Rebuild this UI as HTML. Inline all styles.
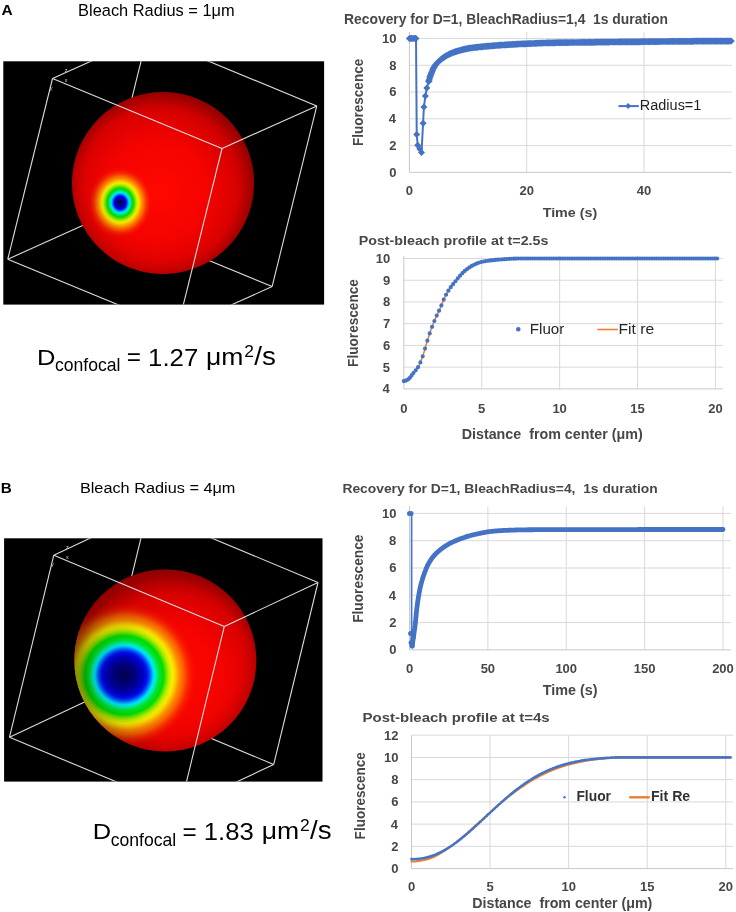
<!DOCTYPE html>
<html><head><meta charset="utf-8"><title>FRAP simulation figure</title>
<style>html,body{margin:0;padding:0;background:#fff;}body{width:736px;height:912px;position:relative;overflow:hidden;font-family:"Liberation Sans", sans-serif;}</style>
</head><body>
<svg width="736" height="912" viewBox="0 0 736 912" style="position:absolute;left:0;top:0;will-change:transform" font-family='"Liberation Sans", sans-serif'>
<defs>
<radialGradient id="sgA" gradientUnits="userSpaceOnUse" cx="157" cy="191" r="100.10000000000001" fx="157" fy="191">
<stop offset="0" stop-color="#ff0800"/><stop offset="0.5" stop-color="#fc0300"/><stop offset="1" stop-color="#f80000"/></radialGradient>
<radialGradient id="shadeA" gradientUnits="userSpaceOnUse" cx="157" cy="191" r="100.10000000000001" fx="157" fy="191">
<stop offset="0" stop-color="#000" stop-opacity="0"/><stop offset="0.5" stop-color="#000" stop-opacity="0.03"/><stop offset="0.8" stop-color="#000" stop-opacity="0.14"/><stop offset="1" stop-color="#000" stop-opacity="0.34"/></radialGradient>
<radialGradient id="limbA" gradientUnits="userSpaceOnUse" cx="163" cy="183" r="91">
<stop offset="0.85" stop-color="#000" stop-opacity="0"/><stop offset="1" stop-color="#000" stop-opacity="0.12"/></radialGradient>
<radialGradient id="sgB" gradientUnits="userSpaceOnUse" cx="173.3" cy="674.4" r="100.10000000000001" fx="173.3" fy="674.4">
<stop offset="0" stop-color="#ff0800"/><stop offset="0.5" stop-color="#fc0300"/><stop offset="1" stop-color="#f80000"/></radialGradient>
<radialGradient id="shadeB" gradientUnits="userSpaceOnUse" cx="173.3" cy="674.4" r="100.10000000000001" fx="173.3" fy="674.4">
<stop offset="0" stop-color="#000" stop-opacity="0"/><stop offset="0.5" stop-color="#000" stop-opacity="0.03"/><stop offset="0.8" stop-color="#000" stop-opacity="0.14"/><stop offset="1" stop-color="#000" stop-opacity="0.34"/></radialGradient>
<radialGradient id="limbB" gradientUnits="userSpaceOnUse" cx="165.3" cy="660.4" r="91">
<stop offset="0.85" stop-color="#000" stop-opacity="0"/><stop offset="1" stop-color="#000" stop-opacity="0.12"/></radialGradient>
<radialGradient id="spotA" gradientUnits="userSpaceOnUse" cx="0" cy="0" r="1" gradientTransform="translate(120.2 202.7) rotate(0) scale(33 36.3)"><stop offset="0.0" stop-color="#000050" stop-opacity="1"/><stop offset="0.0606" stop-color="#000070" stop-opacity="1"/><stop offset="0.1212" stop-color="#0000b0" stop-opacity="1"/><stop offset="0.1818" stop-color="#0000f0" stop-opacity="1"/><stop offset="0.2136" stop-color="#0050ff" stop-opacity="1"/><stop offset="0.2485" stop-color="#00b0ff" stop-opacity="1"/><stop offset="0.2773" stop-color="#00e8ff" stop-opacity="1"/><stop offset="0.3182" stop-color="#00f0a0" stop-opacity="1"/><stop offset="0.3485" stop-color="#00e840" stop-opacity="1"/><stop offset="0.3955" stop-color="#00e000" stop-opacity="1"/><stop offset="0.4545" stop-color="#70e800" stop-opacity="1"/><stop offset="0.5" stop-color="#c0f000" stop-opacity="1"/><stop offset="0.55" stop-color="#f8f000" stop-opacity="1"/><stop offset="0.6061" stop-color="#ffc000" stop-opacity="1"/><stop offset="0.6636" stop-color="#ff9000" stop-opacity="1"/><stop offset="0.7273" stop-color="#ff6a00" stop-opacity="0.95"/><stop offset="0.803" stop-color="#ff4000" stop-opacity="0.75"/><stop offset="0.9394" stop-color="#ff1000" stop-opacity="0.2"/><stop offset="1.0" stop-color="#ff0000" stop-opacity="0"/></radialGradient>
<radialGradient id="spotB" gradientUnits="userSpaceOnUse" cx="0" cy="0" r="1" gradientTransform="translate(124.2 675.2) rotate(0) scale(73 73)"><stop offset="0.0" stop-color="#000050" stop-opacity="1"/><stop offset="0.1096" stop-color="#000070" stop-opacity="1"/><stop offset="0.2055" stop-color="#0000a0" stop-opacity="1"/><stop offset="0.274" stop-color="#0000d0" stop-opacity="1"/><stop offset="0.3151" stop-color="#0010f0" stop-opacity="1"/><stop offset="0.3562" stop-color="#0060ff" stop-opacity="1"/><stop offset="0.3836" stop-color="#00b0ff" stop-opacity="1"/><stop offset="0.4068" stop-color="#00e8ff" stop-opacity="1"/><stop offset="0.4315" stop-color="#00f0c0" stop-opacity="1"/><stop offset="0.4521" stop-color="#00f080" stop-opacity="1"/><stop offset="0.4795" stop-color="#00e830" stop-opacity="1"/><stop offset="0.5397" stop-color="#00e000" stop-opacity="1"/><stop offset="0.5753" stop-color="#60e800" stop-opacity="1"/><stop offset="0.6164" stop-color="#c0f000" stop-opacity="1"/><stop offset="0.663" stop-color="#f8f000" stop-opacity="1"/><stop offset="0.6986" stop-color="#ffd000" stop-opacity="1"/><stop offset="0.7521" stop-color="#ff9000" stop-opacity="1"/><stop offset="0.8219" stop-color="#ff6000" stop-opacity="0.95"/><stop offset="0.8863" stop-color="#ff3000" stop-opacity="0.7"/><stop offset="1.0" stop-color="#ff0000" stop-opacity="0"/></radialGradient>
</defs>
<rect width="736" height="912" fill="#fff"/>
<text x="1.61" y="15.0" font-size="14.35" font-weight="bold" textLength="11.21" lengthAdjust="spacingAndGlyphs" fill="#000">A</text>
<text x="78.09" y="15.8" font-size="16.23" textLength="156.65" lengthAdjust="spacingAndGlyphs" fill="#000">Bleach Radius = 1μm</text>
<clipPath id="clipA"><rect x="3.3" y="61.3" width="320.8" height="243.3"/></clipPath>
<clipPath id="sphA"><circle cx="163" cy="183" r="91"/></clipPath>
<rect x="3.3" y="61.3" width="320.8" height="243.3" fill="#000"/>
<g clip-path="url(#clipA)" stroke="#dcdcdc" stroke-width="1.1" fill="none">
<line x1="7.8" y1="259.2" x2="102.6" y2="216.6"/>
<line x1="147.3" y1="35.9" x2="102.6" y2="216.6"/>
<line x1="102.6" y1="216.6" x2="272.1" y2="286.6"/>
</g>
<circle cx="163" cy="183" r="91" fill="url(#sgA)"/>
<g clip-path="url(#sphA)"><rect x="72" y="92" width="182" height="182" fill="url(#spotA)"/></g>
<circle cx="163" cy="183" r="91" fill="url(#shadeA)"/>
<circle cx="163" cy="183" r="91" fill="url(#limbA)"/>
<g clip-path="url(#clipA)" stroke="#dcdcdc" stroke-width="1.1" fill="none">
<line x1="52.5" y1="78.5" x2="222.0" y2="148.5"/>
<line x1="52.5" y1="78.5" x2="147.3" y2="35.9"/>
<line x1="52.5" y1="78.5" x2="7.8" y2="259.2"/>
<line x1="7.8" y1="259.2" x2="177.3" y2="329.2"/>
<line x1="147.3" y1="35.9" x2="316.8" y2="105.9"/>
<line x1="222.0" y1="148.5" x2="316.8" y2="105.9"/>
<line x1="222.0" y1="148.5" x2="177.3" y2="329.2"/>
<line x1="177.3" y1="329.2" x2="272.1" y2="286.6"/>
<line x1="316.8" y1="105.9" x2="272.1" y2="286.6"/>
</g>
<g font-size="5.5" fill="#d0d0d0"><text x="64.8" y="71.8">z</text><text x="64.8" y="82.3">x</text><text x="49.8" y="89.5">y</text></g>
<text x="37.06" y="364.9" font-size="22.75" textLength="18.45" lengthAdjust="spacingAndGlyphs" fill="#000">D</text>
<text x="55.0" y="371.1" font-size="18.21" textLength="65.54" lengthAdjust="spacingAndGlyphs" fill="#000">confocal</text>
<text x="126.88" y="365.4" font-size="24.00" textLength="14.21" lengthAdjust="spacingAndGlyphs" fill="#000">=</text>
<text x="148.07" y="365.5" font-size="24.29" textLength="50.16" lengthAdjust="spacingAndGlyphs" fill="#000">1.27</text>
<text x="206.07" y="365" font-size="24.50" textLength="37.43" lengthAdjust="spacingAndGlyphs" fill="#000">μm</text>
<text x="244.23" y="356.5" font-size="15.57" textLength="9.66" lengthAdjust="spacingAndGlyphs" fill="#000">2</text>
<text x="254.3" y="365" font-size="25.00" textLength="21.61" lengthAdjust="spacingAndGlyphs" fill="#000">/s</text>
<g stroke="#d9d9d9" stroke-width="1"><line x1="409.4" y1="145.58" x2="731.6" y2="145.58"/><line x1="409.4" y1="118.81" x2="731.6" y2="118.81"/><line x1="409.4" y1="92.04" x2="731.6" y2="92.04"/><line x1="409.4" y1="65.27" x2="731.6" y2="65.27"/><line x1="409.4" y1="38.50" x2="731.6" y2="38.50"/><line x1="526.72" y1="31.8" x2="526.72" y2="172.35"/><line x1="644.04" y1="31.8" x2="644.04" y2="172.35"/></g>
<path d="M409.4 31.8V172.35H731.6" fill="none" stroke="#c8c8c8" stroke-width="1"/>
<text x="344.0" y="23.9" font-size="14.20" font-weight="bold" textLength="323.87" lengthAdjust="spacingAndGlyphs" fill="#474747" style="white-space:pre">Recovery for D=1, BleachRadius=1,4  1s duration</text>
<text x="389.31" y="176.75" font-size="13" font-weight="bold" fill="#474747">0</text>
<text x="389.31" y="149.98" font-size="13" font-weight="bold" fill="#474747">2</text>
<text x="388.85" y="123.21000000000001" font-size="13" font-weight="bold" fill="#474747">4</text>
<text x="389.24" y="96.44" font-size="13" font-weight="bold" fill="#474747">6</text>
<text x="389.18" y="69.67" font-size="13" font-weight="bold" fill="#474747">8</text>
<text x="382.09" y="42.9" font-size="13" font-weight="bold" fill="#474747">10</text>
<text x="409.40" y="194.6" font-size="13" font-weight="bold" text-anchor="middle" fill="#474747">0</text>
<text x="526.72" y="194.6" font-size="13" font-weight="bold" text-anchor="middle" fill="#474747">20</text>
<text x="644.04" y="194.6" font-size="13" font-weight="bold" text-anchor="middle" fill="#474747">40</text>
<text x="542.66" y="216.6" font-size="13.04" font-weight="bold" textLength="54.6" lengthAdjust="spacingAndGlyphs" fill="#474747">Time (s)</text>
<text transform="translate(362.60 145.98) rotate(-90)" font-size="14.30" font-weight="bold" textLength="87.18" lengthAdjust="spacingAndGlyphs" fill="#474747">Fluorescence</text>
<polyline points="409.40,38.50 410.57,38.50 411.75,38.50 412.92,38.50 414.09,38.50 415.27,38.50 416.03,38.50 416.73,134.60 417.73,145.31 419.84,148.93 421.54,152.54 423.07,123.23 423.89,107.03 425.36,96.06 426.76,88.02 428.76,81.20 429.05,80.21 429.34,79.20 429.64,78.19 429.93,77.21 430.22,76.25 430.52,75.35 430.81,74.53 431.10,73.76 431.40,73.02 431.69,72.28 431.98,71.57 432.28,70.88 432.57,70.21 432.86,69.56 433.16,68.94 433.45,68.34 433.74,67.77 434.04,67.23 434.33,66.72 434.62,66.25 434.92,65.81 435.21,65.39 435.50,64.99 435.80,64.61 436.09,64.23 436.38,63.88 436.68,63.53 436.97,63.20 437.26,62.88 437.56,62.57 437.85,62.26 438.14,61.97 438.44,61.69 438.73,61.41 439.02,61.14 439.32,60.88 439.61,60.62 439.90,60.36 440.20,60.11 440.49,59.87 440.78,59.62 441.08,59.38 441.37,59.15 441.66,58.92 441.96,58.69 442.25,58.47 442.54,58.25 442.84,58.04 443.13,57.83 443.42,57.62 443.72,57.42 444.01,57.22 444.30,57.03 444.60,56.83 444.89,56.65 445.18,56.46 445.48,56.28 445.77,56.10 446.06,55.93 446.36,55.76 446.65,55.59 446.94,55.42 447.24,55.26 447.53,55.10 447.82,54.95 448.12,54.79 448.41,54.64 448.70,54.49 449.00,54.34 449.29,54.20 449.58,54.06 449.88,53.91 450.17,53.78 450.46,53.64 450.76,53.51 451.05,53.38 451.34,53.25 451.64,53.12 451.93,53.00 452.22,52.87 452.52,52.75 452.81,52.64 453.10,52.52 453.39,52.41 453.69,52.30 453.98,52.19 454.27,52.09 454.57,51.99 454.86,51.89 455.15,51.79 455.45,51.69 455.74,51.60 456.03,51.51 456.33,51.41 456.62,51.33 456.91,51.24 457.21,51.15 457.50,51.07 457.79,50.98 458.09,50.90 458.38,50.82 458.67,50.74 458.97,50.66 459.26,50.58 459.55,50.50 459.85,50.42 460.14,50.34 460.43,50.27 460.73,50.19 461.02,50.11 461.31,50.04 461.61,49.96 461.90,49.89 462.19,49.81 462.49,49.74 462.78,49.66 463.07,49.59 463.37,49.51 463.66,49.44 463.95,49.36 464.25,49.29 464.54,49.22 464.83,49.15 465.13,49.08 465.42,49.01 465.71,48.94 466.01,48.88 466.30,48.81 466.59,48.75 466.89,48.68 467.18,48.62 467.47,48.56 467.77,48.51 468.06,48.45 468.35,48.39 468.65,48.34 468.94,48.29 469.23,48.24 469.53,48.19 469.82,48.15 470.11,48.10 470.41,48.06 470.70,48.01 470.99,47.97 471.29,47.93 471.58,47.89 471.87,47.85 472.17,47.81 472.46,47.77 472.75,47.73 473.05,47.70 473.34,47.66 473.63,47.62 473.93,47.59 474.22,47.55 474.51,47.52 474.81,47.48 475.10,47.45 475.39,47.42 475.69,47.38 475.98,47.35 476.27,47.31 476.57,47.28 476.86,47.25 477.15,47.21 477.45,47.18 477.74,47.15 478.03,47.12 478.33,47.09 478.62,47.06 478.91,47.02 479.21,46.99 479.50,46.96 479.79,46.93 480.09,46.90 480.38,46.87 480.67,46.84 480.97,46.82 481.26,46.79 481.55,46.76 481.85,46.73 482.14,46.70 482.43,46.67 482.72,46.64 483.02,46.62 483.31,46.59 483.60,46.56 483.90,46.53 484.19,46.51 484.48,46.48 484.78,46.45 485.07,46.42 485.36,46.40 485.66,46.37 485.95,46.34 486.24,46.32 486.54,46.29 486.83,46.26 487.12,46.24 487.42,46.21 487.71,46.18 488.00,46.16 488.30,46.13 488.59,46.10 488.88,46.08 489.18,46.05 489.47,46.02 489.76,46.00 490.06,45.97 490.35,45.95 490.64,45.92 490.94,45.89 491.23,45.87 491.52,45.84 491.82,45.82 492.11,45.79 492.40,45.77 492.70,45.74 492.99,45.72 493.28,45.69 493.58,45.67 493.87,45.64 494.16,45.62 494.46,45.60 494.75,45.57 495.04,45.55 495.34,45.52 495.63,45.50 495.92,45.48 496.22,45.46 496.51,45.43 496.80,45.41 497.10,45.39 497.39,45.37 497.68,45.35 497.98,45.33 498.27,45.31 498.56,45.29 498.86,45.27 499.15,45.25 499.44,45.23 499.74,45.21 500.03,45.19 500.32,45.17 500.62,45.15 500.91,45.13 501.20,45.11 501.50,45.09 501.79,45.08 502.08,45.06 502.38,45.04 502.67,45.02 502.96,45.01 503.26,44.99 503.55,44.97 503.84,44.95 504.14,44.94 504.43,44.92 504.72,44.90 505.02,44.88 505.31,44.87 505.60,44.85 505.90,44.83 506.19,44.82 506.48,44.80 506.78,44.78 507.07,44.76 507.36,44.75 507.66,44.73 507.95,44.71 508.24,44.69 508.54,44.68 508.83,44.66 509.12,44.64 509.42,44.62 509.71,44.60 510.00,44.58 510.30,44.56 510.59,44.54 510.88,44.53 511.18,44.51 511.47,44.49 511.76,44.47 512.05,44.45 512.35,44.43 512.64,44.41 512.93,44.39 513.23,44.37 513.52,44.35 513.81,44.33 514.11,44.31 514.40,44.29 514.69,44.27 514.99,44.25 515.28,44.23 515.57,44.22 515.87,44.20 516.16,44.18 516.45,44.16 516.75,44.14 517.04,44.13 517.33,44.11 517.63,44.09 517.92,44.08 518.21,44.06 518.51,44.05 518.80,44.03 519.09,44.02 519.39,44.00 519.68,43.99 519.97,43.97 520.27,43.96 520.56,43.95 520.85,43.94 521.15,43.93 521.44,43.91 521.73,43.90 522.03,43.89 522.32,43.88 522.61,43.87 522.91,43.86 523.20,43.85 523.49,43.84 523.79,43.83 524.08,43.82 524.37,43.81 524.67,43.80 524.96,43.79 525.25,43.78 525.55,43.77 525.84,43.76 526.13,43.75 526.43,43.74 526.72,43.74 527.01,43.73 527.31,43.72 527.60,43.71 527.89,43.70 528.19,43.69 528.48,43.68 528.77,43.67 529.07,43.66 529.36,43.64 529.65,43.63 529.95,43.62 530.24,43.61 530.53,43.60 530.83,43.59 531.12,43.57 531.41,43.56 531.71,43.55 532.00,43.53 532.29,43.52 532.59,43.50 532.88,43.49 533.17,43.47 533.47,43.45 533.76,43.44 534.05,43.42 534.35,43.40 534.64,43.39 534.93,43.37 535.23,43.35 535.52,43.34 535.81,43.32 536.11,43.30 536.40,43.29 536.69,43.27 536.99,43.25 537.28,43.24 537.57,43.22 537.87,43.20 538.16,43.19 538.45,43.17 538.75,43.16 539.04,43.14 539.33,43.13 539.63,43.12 539.92,43.10 540.21,43.09 540.51,43.08 540.80,43.07 541.09,43.06 541.38,43.05 541.68,43.04 541.97,43.03 542.26,43.03 542.56,43.02 542.85,43.01 543.14,43.00 543.44,42.99 543.73,42.99 544.02,42.98 544.32,42.97 544.61,42.96 544.90,42.96 545.20,42.95 545.49,42.94 545.78,42.93 546.08,42.93 546.37,42.92 546.66,42.91 546.96,42.91 547.25,42.90 547.54,42.89 547.84,42.89 548.13,42.88 548.42,42.87 548.72,42.87 549.01,42.86 549.30,42.86 549.60,42.85 549.89,42.84 550.18,42.84 550.48,42.83 550.77,42.83 551.06,42.82 551.36,42.82 551.65,42.81 551.94,42.81 552.24,42.80 552.53,42.80 552.82,42.79 553.12,42.79 553.41,42.78 553.70,42.78 554.00,42.77 554.29,42.77 554.58,42.76 554.88,42.76 555.17,42.75 555.46,42.75 555.76,42.74 556.05,42.74 556.34,42.73 556.64,42.73 556.93,42.72 557.22,42.72 557.52,42.71 557.81,42.71 558.10,42.71 558.40,42.70 558.69,42.70 558.98,42.69 559.28,42.69 559.57,42.68 559.86,42.68 560.16,42.67 560.45,42.67 560.74,42.67 561.04,42.66 561.33,42.66 561.62,42.65 561.92,42.65 562.21,42.65 562.50,42.64 562.80,42.64 563.09,42.63 563.38,42.63 563.68,42.62 563.97,42.62 564.26,42.62 564.56,42.61 564.85,42.61 565.14,42.61 565.44,42.60 565.73,42.60 566.02,42.59 566.32,42.59 566.61,42.59 566.90,42.58 567.20,42.58 567.49,42.58 567.78,42.57 568.08,42.57 568.37,42.57 568.66,42.56 568.96,42.56 569.25,42.56 569.54,42.55 569.84,42.55 570.13,42.55 570.42,42.54 570.71,42.54 571.01,42.54 571.30,42.53 571.59,42.53 571.89,42.53 572.18,42.52 572.47,42.52 572.77,42.52 573.06,42.52 573.35,42.51 573.65,42.51 573.94,42.51 574.23,42.50 574.53,42.50 574.82,42.50 575.11,42.49 575.41,42.49 575.70,42.49 575.99,42.49 576.29,42.48 576.58,42.48 576.87,42.48 577.17,42.47 577.46,42.47 577.75,42.47 578.05,42.46 578.34,42.46 578.63,42.46 578.93,42.45 579.22,42.45 579.51,42.45 579.81,42.45 580.10,42.44 580.39,42.44 580.69,42.44 580.98,42.43 581.27,42.43 581.57,42.43 581.86,42.42 582.15,42.42 582.45,42.42 582.74,42.41 583.03,42.41 583.33,42.41 583.62,42.40 583.91,42.40 584.21,42.40 584.50,42.39 584.79,42.39 585.09,42.39 585.38,42.38 585.67,42.38 585.97,42.37 586.26,42.37 586.55,42.37 586.85,42.36 587.14,42.36 587.43,42.36 587.73,42.35 588.02,42.35 588.31,42.34 588.61,42.34 588.90,42.34 589.19,42.33 589.49,42.33 589.78,42.32 590.07,42.32 590.37,42.32 590.66,42.31 590.95,42.31 591.25,42.30 591.54,42.30 591.83,42.30 592.13,42.29 592.42,42.29 592.71,42.28 593.01,42.28 593.30,42.27 593.59,42.27 593.89,42.27 594.18,42.26 594.47,42.26 594.77,42.25 595.06,42.25 595.35,42.24 595.65,42.24 595.94,42.24 596.23,42.23 596.53,42.23 596.82,42.22 597.11,42.22 597.41,42.21 597.70,42.21 597.99,42.21 598.29,42.20 598.58,42.20 598.87,42.19 599.17,42.19 599.46,42.18 599.75,42.18 600.04,42.18 600.34,42.17 600.63,42.17 600.92,42.16 601.22,42.16 601.51,42.15 601.80,42.15 602.10,42.15 602.39,42.14 602.68,42.14 602.98,42.13 603.27,42.13 603.56,42.12 603.86,42.12 604.15,42.12 604.44,42.11 604.74,42.11 605.03,42.10 605.32,42.10 605.62,42.10 605.91,42.09 606.20,42.09 606.50,42.08 606.79,42.08 607.08,42.07 607.38,42.07 607.67,42.07 607.96,42.06 608.26,42.06 608.55,42.06 608.84,42.05 609.14,42.05 609.43,42.04 609.72,42.04 610.02,42.04 610.31,42.03 610.60,42.03 610.90,42.02 611.19,42.02 611.48,42.02 611.78,42.01 612.07,42.01 612.36,42.01 612.66,42.00 612.95,42.00 613.24,42.00 613.54,41.99 613.83,41.99 614.12,41.99 614.42,41.98 614.71,41.98 615.00,41.98 615.30,41.97 615.59,41.97 615.88,41.97 616.18,41.96 616.47,41.96 616.76,41.96 617.06,41.96 617.35,41.95 617.64,41.95 617.94,41.95 618.23,41.94 618.52,41.94 618.82,41.94 619.11,41.93 619.40,41.93 619.70,41.93 619.99,41.93 620.28,41.92 620.58,41.92 620.87,41.92 621.16,41.91 621.46,41.91 621.75,41.91 622.04,41.91 622.34,41.90 622.63,41.90 622.92,41.90 623.22,41.90 623.51,41.89 623.80,41.89 624.10,41.89 624.39,41.88 624.68,41.88 624.98,41.88 625.27,41.88 625.56,41.87 625.86,41.87 626.15,41.87 626.44,41.87 626.74,41.86 627.03,41.86 627.32,41.86 627.62,41.86 627.91,41.85 628.20,41.85 628.50,41.85 628.79,41.85 629.08,41.84 629.37,41.84 629.67,41.84 629.96,41.84 630.25,41.83 630.55,41.83 630.84,41.83 631.13,41.83 631.43,41.82 631.72,41.82 632.01,41.82 632.31,41.82 632.60,41.81 632.89,41.81 633.19,41.81 633.48,41.81 633.77,41.80 634.07,41.80 634.36,41.80 634.65,41.80 634.95,41.79 635.24,41.79 635.53,41.79 635.83,41.79 636.12,41.78 636.41,41.78 636.71,41.78 637.00,41.78 637.29,41.77 637.59,41.77 637.88,41.77 638.17,41.77 638.47,41.76 638.76,41.76 639.05,41.76 639.35,41.76 639.64,41.75 639.93,41.75 640.23,41.75 640.52,41.74 640.81,41.74 641.11,41.74 641.40,41.74 641.69,41.73 641.99,41.73 642.28,41.73 642.57,41.73 642.87,41.72 643.16,41.72 643.45,41.72 643.75,41.72 644.04,41.71 644.33,41.71 644.63,41.71 644.92,41.70 645.21,41.70 645.51,41.70 645.80,41.70 646.09,41.69 646.39,41.69 646.68,41.69 646.97,41.68 647.27,41.68 647.56,41.68 647.85,41.68 648.15,41.67 648.44,41.67 648.73,41.67 649.03,41.66 649.32,41.66 649.61,41.66 649.91,41.65 650.20,41.65 650.49,41.65 650.79,41.65 651.08,41.64 651.37,41.64 651.67,41.64 651.96,41.63 652.25,41.63 652.55,41.63 652.84,41.62 653.13,41.62 653.43,41.62 653.72,41.62 654.01,41.61 654.31,41.61 654.60,41.61 654.89,41.60 655.19,41.60 655.48,41.60 655.77,41.59 656.07,41.59 656.36,41.59 656.65,41.58 656.95,41.58 657.24,41.58 657.53,41.58 657.83,41.57 658.12,41.57 658.41,41.57 658.70,41.56 659.00,41.56 659.29,41.56 659.58,41.55 659.88,41.55 660.17,41.55 660.46,41.54 660.76,41.54 661.05,41.54 661.34,41.53 661.64,41.53 661.93,41.53 662.22,41.53 662.52,41.52 662.81,41.52 663.10,41.52 663.40,41.51 663.69,41.51 663.98,41.51 664.28,41.50 664.57,41.50 664.86,41.50 665.16,41.49 665.45,41.49 665.74,41.49 666.04,41.49 666.33,41.48 666.62,41.48 666.92,41.48 667.21,41.47 667.50,41.47 667.80,41.47 668.09,41.46 668.38,41.46 668.68,41.46 668.97,41.45 669.26,41.45 669.56,41.45 669.85,41.45 670.14,41.44 670.44,41.44 670.73,41.44 671.02,41.43 671.32,41.43 671.61,41.43 671.90,41.43 672.20,41.42 672.49,41.42 672.78,41.42 673.08,41.41 673.37,41.41 673.66,41.41 673.96,41.41 674.25,41.40 674.54,41.40 674.84,41.40 675.13,41.39 675.42,41.39 675.72,41.39 676.01,41.39 676.30,41.38 676.60,41.38 676.89,41.38 677.18,41.38 677.48,41.37 677.77,41.37 678.06,41.37 678.36,41.37 678.65,41.36 678.94,41.36 679.24,41.36 679.53,41.36 679.82,41.35 680.12,41.35 680.41,41.35 680.70,41.35 681.00,41.34 681.29,41.34 681.58,41.34 681.88,41.34 682.17,41.33 682.46,41.33 682.76,41.33 683.05,41.33 683.34,41.32 683.64,41.32 683.93,41.32 684.22,41.32 684.52,41.32 684.81,41.31 685.10,41.31 685.40,41.31 685.69,41.31 685.98,41.30 686.28,41.30 686.57,41.30 686.86,41.30 687.16,41.30 687.45,41.29 687.74,41.29 688.03,41.29 688.33,41.29 688.62,41.29 688.91,41.28 689.21,41.28 689.50,41.28 689.79,41.28 690.09,41.28 690.38,41.27 690.67,41.27 690.97,41.27 691.26,41.27 691.55,41.26 691.85,41.26 692.14,41.26 692.43,41.26 692.73,41.26 693.02,41.25 693.31,41.25 693.61,41.25 693.90,41.25 694.19,41.25 694.49,41.24 694.78,41.24 695.07,41.24 695.37,41.24 695.66,41.24 695.95,41.23 696.25,41.23 696.54,41.23 696.83,41.23 697.13,41.23 697.42,41.23 697.71,41.22 698.01,41.22 698.30,41.22 698.59,41.22 698.89,41.22 699.18,41.21 699.47,41.21 699.77,41.21 700.06,41.21 700.35,41.21 700.65,41.20 700.94,41.20 701.23,41.20 701.53,41.20 701.82,41.20 702.11,41.19 702.41,41.19 702.70,41.19 702.99,41.19 703.29,41.19 703.58,41.19 703.87,41.18 704.17,41.18 704.46,41.18 704.75,41.18 705.05,41.18 705.34,41.17 705.63,41.17 705.93,41.17 706.22,41.17 706.51,41.17 706.81,41.17 707.10,41.16 707.39,41.16 707.69,41.16 707.98,41.16 708.27,41.16 708.57,41.16 708.86,41.15 709.15,41.15 709.45,41.15 709.74,41.15 710.03,41.15 710.33,41.15 710.62,41.14 710.91,41.14 711.21,41.14 711.50,41.14 711.79,41.14 712.09,41.14 712.38,41.13 712.67,41.13 712.97,41.13 713.26,41.13 713.55,41.13 713.85,41.13 714.14,41.12 714.43,41.12 714.73,41.12 715.02,41.12 715.31,41.12 715.61,41.12 715.90,41.11 716.19,41.11 716.49,41.11 716.78,41.11 717.07,41.11 717.36,41.11 717.66,41.11 717.95,41.10 718.24,41.10 718.54,41.10 718.83,41.10 719.12,41.10 719.42,41.10 719.71,41.10 720.00,41.09 720.30,41.09 720.59,41.09 720.88,41.09 721.18,41.09 721.47,41.09 721.76,41.09 722.06,41.08 722.35,41.08 722.64,41.08 722.94,41.08 723.23,41.08 723.52,41.08 723.82,41.08 724.11,41.07 724.40,41.07 724.70,41.07 724.99,41.07 725.28,41.07 725.58,41.07 725.87,41.07 726.16,41.07 726.46,41.06 726.75,41.06 727.04,41.06 727.34,41.06 727.63,41.06 727.92,41.06 728.22,41.06 728.51,41.06 728.80,41.06 729.10,41.05 729.39,41.05 729.68,41.05 729.98,41.05 730.27,41.05 730.56,41.05 730.86,41.05 731.15,41.05" fill="none" stroke="#4472c4" stroke-width="2" stroke-linejoin="round" stroke-linecap="round"/>
<polyline points="428.76,81.20 429.05,80.21 429.34,79.20 429.64,78.19 429.93,77.21 430.22,76.25 430.52,75.35 430.81,74.53 431.10,73.76 431.40,73.02 431.69,72.28 431.98,71.57 432.28,70.88 432.57,70.21 432.86,69.56 433.16,68.94 433.45,68.34 433.74,67.77 434.04,67.23 434.33,66.72 434.62,66.25 434.92,65.81 435.21,65.39 435.50,64.99 435.80,64.61 436.09,64.23 436.38,63.88 436.68,63.53 436.97,63.20 437.26,62.88 437.56,62.57 437.85,62.26 438.14,61.97 438.44,61.69 438.73,61.41 439.02,61.14 439.32,60.88 439.61,60.62 439.90,60.36 440.20,60.11 440.49,59.87 440.78,59.62 441.08,59.38 441.37,59.15 441.66,58.92 441.96,58.69 442.25,58.47 442.54,58.25 442.84,58.04 443.13,57.83 443.42,57.62 443.72,57.42 444.01,57.22 444.30,57.03 444.60,56.83 444.89,56.65 445.18,56.46 445.48,56.28 445.77,56.10 446.06,55.93 446.36,55.76 446.65,55.59 446.94,55.42 447.24,55.26 447.53,55.10 447.82,54.95 448.12,54.79 448.41,54.64 448.70,54.49 449.00,54.34 449.29,54.20 449.58,54.06 449.88,53.91 450.17,53.78 450.46,53.64 450.76,53.51 451.05,53.38 451.34,53.25 451.64,53.12 451.93,53.00 452.22,52.87 452.52,52.75 452.81,52.64 453.10,52.52 453.39,52.41 453.69,52.30 453.98,52.19 454.27,52.09 454.57,51.99 454.86,51.89 455.15,51.79 455.45,51.69 455.74,51.60 456.03,51.51 456.33,51.41 456.62,51.33 456.91,51.24 457.21,51.15 457.50,51.07 457.79,50.98 458.09,50.90 458.38,50.82 458.67,50.74 458.97,50.66 459.26,50.58 459.55,50.50 459.85,50.42 460.14,50.34 460.43,50.27 460.73,50.19 461.02,50.11 461.31,50.04 461.61,49.96 461.90,49.89 462.19,49.81 462.49,49.74 462.78,49.66 463.07,49.59 463.37,49.51 463.66,49.44 463.95,49.36 464.25,49.29 464.54,49.22 464.83,49.15 465.13,49.08 465.42,49.01 465.71,48.94 466.01,48.88 466.30,48.81 466.59,48.75 466.89,48.68 467.18,48.62 467.47,48.56 467.77,48.51 468.06,48.45 468.35,48.39 468.65,48.34 468.94,48.29 469.23,48.24 469.53,48.19 469.82,48.15 470.11,48.10 470.41,48.06 470.70,48.01 470.99,47.97 471.29,47.93 471.58,47.89 471.87,47.85 472.17,47.81 472.46,47.77 472.75,47.73 473.05,47.70 473.34,47.66 473.63,47.62 473.93,47.59 474.22,47.55 474.51,47.52 474.81,47.48 475.10,47.45 475.39,47.42 475.69,47.38 475.98,47.35 476.27,47.31 476.57,47.28 476.86,47.25 477.15,47.21 477.45,47.18 477.74,47.15 478.03,47.12 478.33,47.09 478.62,47.06 478.91,47.02 479.21,46.99 479.50,46.96 479.79,46.93 480.09,46.90 480.38,46.87 480.67,46.84 480.97,46.82 481.26,46.79 481.55,46.76 481.85,46.73 482.14,46.70 482.43,46.67 482.72,46.64 483.02,46.62 483.31,46.59 483.60,46.56 483.90,46.53 484.19,46.51 484.48,46.48 484.78,46.45 485.07,46.42 485.36,46.40 485.66,46.37 485.95,46.34 486.24,46.32 486.54,46.29 486.83,46.26 487.12,46.24 487.42,46.21 487.71,46.18 488.00,46.16 488.30,46.13 488.59,46.10 488.88,46.08 489.18,46.05 489.47,46.02 489.76,46.00 490.06,45.97 490.35,45.95 490.64,45.92 490.94,45.89 491.23,45.87 491.52,45.84 491.82,45.82 492.11,45.79 492.40,45.77 492.70,45.74 492.99,45.72 493.28,45.69 493.58,45.67 493.87,45.64 494.16,45.62 494.46,45.60 494.75,45.57 495.04,45.55 495.34,45.52 495.63,45.50 495.92,45.48 496.22,45.46 496.51,45.43 496.80,45.41 497.10,45.39 497.39,45.37 497.68,45.35 497.98,45.33 498.27,45.31 498.56,45.29 498.86,45.27 499.15,45.25 499.44,45.23 499.74,45.21 500.03,45.19 500.32,45.17 500.62,45.15 500.91,45.13 501.20,45.11 501.50,45.09 501.79,45.08 502.08,45.06 502.38,45.04 502.67,45.02 502.96,45.01 503.26,44.99 503.55,44.97 503.84,44.95 504.14,44.94 504.43,44.92 504.72,44.90 505.02,44.88 505.31,44.87 505.60,44.85 505.90,44.83 506.19,44.82 506.48,44.80 506.78,44.78 507.07,44.76 507.36,44.75 507.66,44.73 507.95,44.71 508.24,44.69 508.54,44.68 508.83,44.66 509.12,44.64 509.42,44.62 509.71,44.60 510.00,44.58 510.30,44.56 510.59,44.54 510.88,44.53 511.18,44.51 511.47,44.49 511.76,44.47 512.05,44.45 512.35,44.43 512.64,44.41 512.93,44.39 513.23,44.37 513.52,44.35 513.81,44.33 514.11,44.31 514.40,44.29 514.69,44.27 514.99,44.25 515.28,44.23 515.57,44.22 515.87,44.20 516.16,44.18 516.45,44.16 516.75,44.14 517.04,44.13 517.33,44.11 517.63,44.09 517.92,44.08 518.21,44.06 518.51,44.05 518.80,44.03 519.09,44.02 519.39,44.00 519.68,43.99 519.97,43.97 520.27,43.96 520.56,43.95 520.85,43.94 521.15,43.93 521.44,43.91 521.73,43.90 522.03,43.89 522.32,43.88 522.61,43.87 522.91,43.86 523.20,43.85 523.49,43.84 523.79,43.83 524.08,43.82 524.37,43.81 524.67,43.80 524.96,43.79 525.25,43.78 525.55,43.77 525.84,43.76 526.13,43.75 526.43,43.74 526.72,43.74 527.01,43.73 527.31,43.72 527.60,43.71 527.89,43.70 528.19,43.69 528.48,43.68 528.77,43.67 529.07,43.66 529.36,43.64 529.65,43.63 529.95,43.62 530.24,43.61 530.53,43.60 530.83,43.59 531.12,43.57 531.41,43.56 531.71,43.55 532.00,43.53 532.29,43.52 532.59,43.50 532.88,43.49 533.17,43.47 533.47,43.45 533.76,43.44 534.05,43.42 534.35,43.40 534.64,43.39 534.93,43.37 535.23,43.35 535.52,43.34 535.81,43.32 536.11,43.30 536.40,43.29 536.69,43.27 536.99,43.25 537.28,43.24 537.57,43.22 537.87,43.20 538.16,43.19 538.45,43.17 538.75,43.16 539.04,43.14 539.33,43.13 539.63,43.12 539.92,43.10 540.21,43.09 540.51,43.08 540.80,43.07 541.09,43.06 541.38,43.05 541.68,43.04 541.97,43.03 542.26,43.03 542.56,43.02 542.85,43.01 543.14,43.00 543.44,42.99 543.73,42.99 544.02,42.98 544.32,42.97 544.61,42.96 544.90,42.96 545.20,42.95 545.49,42.94 545.78,42.93 546.08,42.93 546.37,42.92 546.66,42.91 546.96,42.91 547.25,42.90 547.54,42.89 547.84,42.89 548.13,42.88 548.42,42.87 548.72,42.87 549.01,42.86 549.30,42.86 549.60,42.85 549.89,42.84 550.18,42.84 550.48,42.83 550.77,42.83 551.06,42.82 551.36,42.82 551.65,42.81 551.94,42.81 552.24,42.80 552.53,42.80 552.82,42.79 553.12,42.79 553.41,42.78 553.70,42.78 554.00,42.77 554.29,42.77 554.58,42.76 554.88,42.76 555.17,42.75 555.46,42.75 555.76,42.74 556.05,42.74 556.34,42.73 556.64,42.73 556.93,42.72 557.22,42.72 557.52,42.71 557.81,42.71 558.10,42.71 558.40,42.70 558.69,42.70 558.98,42.69 559.28,42.69 559.57,42.68 559.86,42.68 560.16,42.67 560.45,42.67 560.74,42.67 561.04,42.66 561.33,42.66 561.62,42.65 561.92,42.65 562.21,42.65 562.50,42.64 562.80,42.64 563.09,42.63 563.38,42.63 563.68,42.62 563.97,42.62 564.26,42.62 564.56,42.61 564.85,42.61 565.14,42.61 565.44,42.60 565.73,42.60 566.02,42.59 566.32,42.59 566.61,42.59 566.90,42.58 567.20,42.58 567.49,42.58 567.78,42.57 568.08,42.57 568.37,42.57 568.66,42.56 568.96,42.56 569.25,42.56 569.54,42.55 569.84,42.55 570.13,42.55 570.42,42.54 570.71,42.54 571.01,42.54 571.30,42.53 571.59,42.53 571.89,42.53 572.18,42.52 572.47,42.52 572.77,42.52 573.06,42.52 573.35,42.51 573.65,42.51 573.94,42.51 574.23,42.50 574.53,42.50 574.82,42.50 575.11,42.49 575.41,42.49 575.70,42.49 575.99,42.49 576.29,42.48 576.58,42.48 576.87,42.48 577.17,42.47 577.46,42.47 577.75,42.47 578.05,42.46 578.34,42.46 578.63,42.46 578.93,42.45 579.22,42.45 579.51,42.45 579.81,42.45 580.10,42.44 580.39,42.44 580.69,42.44 580.98,42.43 581.27,42.43 581.57,42.43 581.86,42.42 582.15,42.42 582.45,42.42 582.74,42.41 583.03,42.41 583.33,42.41 583.62,42.40 583.91,42.40 584.21,42.40 584.50,42.39 584.79,42.39 585.09,42.39 585.38,42.38 585.67,42.38 585.97,42.37 586.26,42.37 586.55,42.37 586.85,42.36 587.14,42.36 587.43,42.36 587.73,42.35 588.02,42.35 588.31,42.34 588.61,42.34 588.90,42.34 589.19,42.33 589.49,42.33 589.78,42.32 590.07,42.32 590.37,42.32 590.66,42.31 590.95,42.31 591.25,42.30 591.54,42.30 591.83,42.30 592.13,42.29 592.42,42.29 592.71,42.28 593.01,42.28 593.30,42.27 593.59,42.27 593.89,42.27 594.18,42.26 594.47,42.26 594.77,42.25 595.06,42.25 595.35,42.24 595.65,42.24 595.94,42.24 596.23,42.23 596.53,42.23 596.82,42.22 597.11,42.22 597.41,42.21 597.70,42.21 597.99,42.21 598.29,42.20 598.58,42.20 598.87,42.19 599.17,42.19 599.46,42.18 599.75,42.18 600.04,42.18 600.34,42.17 600.63,42.17 600.92,42.16 601.22,42.16 601.51,42.15 601.80,42.15 602.10,42.15 602.39,42.14 602.68,42.14 602.98,42.13 603.27,42.13 603.56,42.12 603.86,42.12 604.15,42.12 604.44,42.11 604.74,42.11 605.03,42.10 605.32,42.10 605.62,42.10 605.91,42.09 606.20,42.09 606.50,42.08 606.79,42.08 607.08,42.07 607.38,42.07 607.67,42.07 607.96,42.06 608.26,42.06 608.55,42.06 608.84,42.05 609.14,42.05 609.43,42.04 609.72,42.04 610.02,42.04 610.31,42.03 610.60,42.03 610.90,42.02 611.19,42.02 611.48,42.02 611.78,42.01 612.07,42.01 612.36,42.01 612.66,42.00 612.95,42.00 613.24,42.00 613.54,41.99 613.83,41.99 614.12,41.99 614.42,41.98 614.71,41.98 615.00,41.98 615.30,41.97 615.59,41.97 615.88,41.97 616.18,41.96 616.47,41.96 616.76,41.96 617.06,41.96 617.35,41.95 617.64,41.95 617.94,41.95 618.23,41.94 618.52,41.94 618.82,41.94 619.11,41.93 619.40,41.93 619.70,41.93 619.99,41.93 620.28,41.92 620.58,41.92 620.87,41.92 621.16,41.91 621.46,41.91 621.75,41.91 622.04,41.91 622.34,41.90 622.63,41.90 622.92,41.90 623.22,41.90 623.51,41.89 623.80,41.89 624.10,41.89 624.39,41.88 624.68,41.88 624.98,41.88 625.27,41.88 625.56,41.87 625.86,41.87 626.15,41.87 626.44,41.87 626.74,41.86 627.03,41.86 627.32,41.86 627.62,41.86 627.91,41.85 628.20,41.85 628.50,41.85 628.79,41.85 629.08,41.84 629.37,41.84 629.67,41.84 629.96,41.84 630.25,41.83 630.55,41.83 630.84,41.83 631.13,41.83 631.43,41.82 631.72,41.82 632.01,41.82 632.31,41.82 632.60,41.81 632.89,41.81 633.19,41.81 633.48,41.81 633.77,41.80 634.07,41.80 634.36,41.80 634.65,41.80 634.95,41.79 635.24,41.79 635.53,41.79 635.83,41.79 636.12,41.78 636.41,41.78 636.71,41.78 637.00,41.78 637.29,41.77 637.59,41.77 637.88,41.77 638.17,41.77 638.47,41.76 638.76,41.76 639.05,41.76 639.35,41.76 639.64,41.75 639.93,41.75 640.23,41.75 640.52,41.74 640.81,41.74 641.11,41.74 641.40,41.74 641.69,41.73 641.99,41.73 642.28,41.73 642.57,41.73 642.87,41.72 643.16,41.72 643.45,41.72 643.75,41.72 644.04,41.71 644.33,41.71 644.63,41.71 644.92,41.70 645.21,41.70 645.51,41.70 645.80,41.70 646.09,41.69 646.39,41.69 646.68,41.69 646.97,41.68 647.27,41.68 647.56,41.68 647.85,41.68 648.15,41.67 648.44,41.67 648.73,41.67 649.03,41.66 649.32,41.66 649.61,41.66 649.91,41.65 650.20,41.65 650.49,41.65 650.79,41.65 651.08,41.64 651.37,41.64 651.67,41.64 651.96,41.63 652.25,41.63 652.55,41.63 652.84,41.62 653.13,41.62 653.43,41.62 653.72,41.62 654.01,41.61 654.31,41.61 654.60,41.61 654.89,41.60 655.19,41.60 655.48,41.60 655.77,41.59 656.07,41.59 656.36,41.59 656.65,41.58 656.95,41.58 657.24,41.58 657.53,41.58 657.83,41.57 658.12,41.57 658.41,41.57 658.70,41.56 659.00,41.56 659.29,41.56 659.58,41.55 659.88,41.55 660.17,41.55 660.46,41.54 660.76,41.54 661.05,41.54 661.34,41.53 661.64,41.53 661.93,41.53 662.22,41.53 662.52,41.52 662.81,41.52 663.10,41.52 663.40,41.51 663.69,41.51 663.98,41.51 664.28,41.50 664.57,41.50 664.86,41.50 665.16,41.49 665.45,41.49 665.74,41.49 666.04,41.49 666.33,41.48 666.62,41.48 666.92,41.48 667.21,41.47 667.50,41.47 667.80,41.47 668.09,41.46 668.38,41.46 668.68,41.46 668.97,41.45 669.26,41.45 669.56,41.45 669.85,41.45 670.14,41.44 670.44,41.44 670.73,41.44 671.02,41.43 671.32,41.43 671.61,41.43 671.90,41.43 672.20,41.42 672.49,41.42 672.78,41.42 673.08,41.41 673.37,41.41 673.66,41.41 673.96,41.41 674.25,41.40 674.54,41.40 674.84,41.40 675.13,41.39 675.42,41.39 675.72,41.39 676.01,41.39 676.30,41.38 676.60,41.38 676.89,41.38 677.18,41.38 677.48,41.37 677.77,41.37 678.06,41.37 678.36,41.37 678.65,41.36 678.94,41.36 679.24,41.36 679.53,41.36 679.82,41.35 680.12,41.35 680.41,41.35 680.70,41.35 681.00,41.34 681.29,41.34 681.58,41.34 681.88,41.34 682.17,41.33 682.46,41.33 682.76,41.33 683.05,41.33 683.34,41.32 683.64,41.32 683.93,41.32 684.22,41.32 684.52,41.32 684.81,41.31 685.10,41.31 685.40,41.31 685.69,41.31 685.98,41.30 686.28,41.30 686.57,41.30 686.86,41.30 687.16,41.30 687.45,41.29 687.74,41.29 688.03,41.29 688.33,41.29 688.62,41.29 688.91,41.28 689.21,41.28 689.50,41.28 689.79,41.28 690.09,41.28 690.38,41.27 690.67,41.27 690.97,41.27 691.26,41.27 691.55,41.26 691.85,41.26 692.14,41.26 692.43,41.26 692.73,41.26 693.02,41.25 693.31,41.25 693.61,41.25 693.90,41.25 694.19,41.25 694.49,41.24 694.78,41.24 695.07,41.24 695.37,41.24 695.66,41.24 695.95,41.23 696.25,41.23 696.54,41.23 696.83,41.23 697.13,41.23 697.42,41.23 697.71,41.22 698.01,41.22 698.30,41.22 698.59,41.22 698.89,41.22 699.18,41.21 699.47,41.21 699.77,41.21 700.06,41.21 700.35,41.21 700.65,41.20 700.94,41.20 701.23,41.20 701.53,41.20 701.82,41.20 702.11,41.19 702.41,41.19 702.70,41.19 702.99,41.19 703.29,41.19 703.58,41.19 703.87,41.18 704.17,41.18 704.46,41.18 704.75,41.18 705.05,41.18 705.34,41.17 705.63,41.17 705.93,41.17 706.22,41.17 706.51,41.17 706.81,41.17 707.10,41.16 707.39,41.16 707.69,41.16 707.98,41.16 708.27,41.16 708.57,41.16 708.86,41.15 709.15,41.15 709.45,41.15 709.74,41.15 710.03,41.15 710.33,41.15 710.62,41.14 710.91,41.14 711.21,41.14 711.50,41.14 711.79,41.14 712.09,41.14 712.38,41.13 712.67,41.13 712.97,41.13 713.26,41.13 713.55,41.13 713.85,41.13 714.14,41.12 714.43,41.12 714.73,41.12 715.02,41.12 715.31,41.12 715.61,41.12 715.90,41.11 716.19,41.11 716.49,41.11 716.78,41.11 717.07,41.11 717.36,41.11 717.66,41.11 717.95,41.10 718.24,41.10 718.54,41.10 718.83,41.10 719.12,41.10 719.42,41.10 719.71,41.10 720.00,41.09 720.30,41.09 720.59,41.09 720.88,41.09 721.18,41.09 721.47,41.09 721.76,41.09 722.06,41.08 722.35,41.08 722.64,41.08 722.94,41.08 723.23,41.08 723.52,41.08 723.82,41.08 724.11,41.07 724.40,41.07 724.70,41.07 724.99,41.07 725.28,41.07 725.58,41.07 725.87,41.07 726.16,41.07 726.46,41.06 726.75,41.06 727.04,41.06 727.34,41.06 727.63,41.06 727.92,41.06 728.22,41.06 728.51,41.06 728.80,41.06 729.10,41.05 729.39,41.05 729.68,41.05 729.98,41.05 730.27,41.05 730.56,41.05 730.86,41.05 731.15,41.05" fill="none" stroke="#4472c4" stroke-width="4.6" stroke-linejoin="round" stroke-linecap="round"/>
<path d="M409.4 35.0l3.5 3.5l-3.5 3.5l-3.5 -3.5zM410.6 35.0l3.5 3.5l-3.5 3.5l-3.5 -3.5zM411.7 35.0l3.5 3.5l-3.5 3.5l-3.5 -3.5zM412.9 35.0l3.5 3.5l-3.5 3.5l-3.5 -3.5zM414.1 35.0l3.5 3.5l-3.5 3.5l-3.5 -3.5zM415.3 35.0l3.5 3.5l-3.5 3.5l-3.5 -3.5zM416.0 35.0l3.5 3.5l-3.5 3.5l-3.5 -3.5zM416.7 131.1l3.5 3.5l-3.5 3.5l-3.5 -3.5zM417.7 141.8l3.5 3.5l-3.5 3.5l-3.5 -3.5zM419.8 145.4l3.5 3.5l-3.5 3.5l-3.5 -3.5zM421.5 149.0l3.5 3.5l-3.5 3.5l-3.5 -3.5zM423.1 119.7l3.5 3.5l-3.5 3.5l-3.5 -3.5zM423.9 103.5l3.5 3.5l-3.5 3.5l-3.5 -3.5zM425.4 92.6l3.5 3.5l-3.5 3.5l-3.5 -3.5zM426.8 84.5l3.5 3.5l-3.5 3.5l-3.5 -3.5zM428.8 77.7l3.5 3.5l-3.5 3.5l-3.5 -3.5z" fill="#4472c4"/>
<path d="M428.8 77.6l3.6 3.6l-3.6 3.6l-3.6 -3.6zM429.1 76.4l3.6 3.6l-3.6 3.6l-3.6 -3.6zM429.4 75.3l3.6 3.6l-3.6 3.6l-3.6 -3.6zM429.8 74.1l3.6 3.6l-3.6 3.6l-3.6 -3.6zM430.1 73.0l3.6 3.6l-3.6 3.6l-3.6 -3.6zM430.5 71.8l3.6 3.6l-3.6 3.6l-3.6 -3.6zM430.9 70.7l3.6 3.6l-3.6 3.6l-3.6 -3.6zM431.3 69.6l3.6 3.6l-3.6 3.6l-3.6 -3.6zM431.8 68.5l3.6 3.6l-3.6 3.6l-3.6 -3.6zM432.2 67.4l3.6 3.6l-3.6 3.6l-3.6 -3.6zM432.7 66.3l3.6 3.6l-3.6 3.6l-3.6 -3.6zM433.2 65.2l3.6 3.6l-3.6 3.6l-3.6 -3.6zM433.8 64.1l3.6 3.6l-3.6 3.6l-3.6 -3.6zM434.4 63.1l3.6 3.6l-3.6 3.6l-3.6 -3.6zM435.0 62.1l3.6 3.6l-3.6 3.6l-3.6 -3.6zM435.7 61.1l3.6 3.6l-3.6 3.6l-3.6 -3.6zM436.5 60.2l3.6 3.6l-3.6 3.6l-3.6 -3.6zM437.3 59.3l3.6 3.6l-3.6 3.6l-3.6 -3.6zM438.1 58.4l3.6 3.6l-3.6 3.6l-3.6 -3.6zM439.0 57.6l3.6 3.6l-3.6 3.6l-3.6 -3.6zM439.9 56.8l3.6 3.6l-3.6 3.6l-3.6 -3.6zM440.8 56.0l3.6 3.6l-3.6 3.6l-3.6 -3.6zM441.7 55.3l3.6 3.6l-3.6 3.6l-3.6 -3.6zM442.7 54.5l3.6 3.6l-3.6 3.6l-3.6 -3.6zM443.7 53.8l3.6 3.6l-3.6 3.6l-3.6 -3.6zM444.7 53.2l3.6 3.6l-3.6 3.6l-3.6 -3.6zM445.7 52.5l3.6 3.6l-3.6 3.6l-3.6 -3.6zM446.7 51.9l3.6 3.6l-3.6 3.6l-3.6 -3.6zM447.8 51.4l3.6 3.6l-3.6 3.6l-3.6 -3.6zM448.9 50.8l3.6 3.6l-3.6 3.6l-3.6 -3.6zM449.9 50.3l3.6 3.6l-3.6 3.6l-3.6 -3.6zM451.0 49.8l3.6 3.6l-3.6 3.6l-3.6 -3.6zM452.1 49.3l3.6 3.6l-3.6 3.6l-3.6 -3.6zM453.3 48.9l3.6 3.6l-3.6 3.6l-3.6 -3.6zM454.4 48.5l3.6 3.6l-3.6 3.6l-3.6 -3.6zM455.5 48.1l3.6 3.6l-3.6 3.6l-3.6 -3.6zM456.7 47.7l3.6 3.6l-3.6 3.6l-3.6 -3.6zM457.8 47.4l3.6 3.6l-3.6 3.6l-3.6 -3.6zM459.0 47.1l3.6 3.6l-3.6 3.6l-3.6 -3.6zM460.1 46.7l3.6 3.6l-3.6 3.6l-3.6 -3.6zM461.3 46.4l3.6 3.6l-3.6 3.6l-3.6 -3.6zM462.5 46.1l3.6 3.6l-3.6 3.6l-3.6 -3.6zM463.6 45.8l3.6 3.6l-3.6 3.6l-3.6 -3.6zM464.8 45.6l3.6 3.6l-3.6 3.6l-3.6 -3.6zM466.0 45.3l3.6 3.6l-3.6 3.6l-3.6 -3.6zM467.1 45.0l3.6 3.6l-3.6 3.6l-3.6 -3.6zM468.3 44.8l3.6 3.6l-3.6 3.6l-3.6 -3.6zM469.5 44.6l3.6 3.6l-3.6 3.6l-3.6 -3.6zM470.7 44.4l3.6 3.6l-3.6 3.6l-3.6 -3.6zM471.9 44.2l3.6 3.6l-3.6 3.6l-3.6 -3.6zM473.1 44.1l3.6 3.6l-3.6 3.6l-3.6 -3.6zM474.3 43.9l3.6 3.6l-3.6 3.6l-3.6 -3.6zM475.5 43.8l3.6 3.6l-3.6 3.6l-3.6 -3.6zM476.7 43.7l3.6 3.6l-3.6 3.6l-3.6 -3.6zM477.8 43.5l3.6 3.6l-3.6 3.6l-3.6 -3.6zM479.0 43.4l3.6 3.6l-3.6 3.6l-3.6 -3.6zM480.2 43.3l3.6 3.6l-3.6 3.6l-3.6 -3.6zM481.4 43.2l3.6 3.6l-3.6 3.6l-3.6 -3.6zM482.6 43.1l3.6 3.6l-3.6 3.6l-3.6 -3.6zM483.8 42.9l3.6 3.6l-3.6 3.6l-3.6 -3.6zM485.0 42.8l3.6 3.6l-3.6 3.6l-3.6 -3.6zM486.2 42.7l3.6 3.6l-3.6 3.6l-3.6 -3.6zM487.4 42.6l3.6 3.6l-3.6 3.6l-3.6 -3.6zM488.6 42.5l3.6 3.6l-3.6 3.6l-3.6 -3.6zM489.8 42.4l3.6 3.6l-3.6 3.6l-3.6 -3.6zM491.0 42.3l3.6 3.6l-3.6 3.6l-3.6 -3.6zM492.2 42.2l3.6 3.6l-3.6 3.6l-3.6 -3.6zM493.4 42.1l3.6 3.6l-3.6 3.6l-3.6 -3.6zM494.6 42.0l3.6 3.6l-3.6 3.6l-3.6 -3.6zM495.8 41.9l3.6 3.6l-3.6 3.6l-3.6 -3.6zM497.0 41.8l3.6 3.6l-3.6 3.6l-3.6 -3.6zM498.2 41.7l3.6 3.6l-3.6 3.6l-3.6 -3.6zM499.4 41.6l3.6 3.6l-3.6 3.6l-3.6 -3.6zM500.6 41.6l3.6 3.6l-3.6 3.6l-3.6 -3.6zM501.8 41.5l3.6 3.6l-3.6 3.6l-3.6 -3.6zM503.0 41.4l3.6 3.6l-3.6 3.6l-3.6 -3.6zM504.2 41.3l3.6 3.6l-3.6 3.6l-3.6 -3.6zM505.4 41.3l3.6 3.6l-3.6 3.6l-3.6 -3.6zM506.6 41.2l3.6 3.6l-3.6 3.6l-3.6 -3.6zM507.8 41.1l3.6 3.6l-3.6 3.6l-3.6 -3.6zM509.0 41.0l3.6 3.6l-3.6 3.6l-3.6 -3.6zM510.2 41.0l3.6 3.6l-3.6 3.6l-3.6 -3.6zM511.4 40.9l3.6 3.6l-3.6 3.6l-3.6 -3.6zM512.6 40.8l3.6 3.6l-3.6 3.6l-3.6 -3.6zM513.8 40.7l3.6 3.6l-3.6 3.6l-3.6 -3.6zM515.0 40.7l3.6 3.6l-3.6 3.6l-3.6 -3.6zM516.2 40.6l3.6 3.6l-3.6 3.6l-3.6 -3.6zM517.4 40.5l3.6 3.6l-3.6 3.6l-3.6 -3.6zM518.6 40.4l3.6 3.6l-3.6 3.6l-3.6 -3.6zM519.8 40.4l3.6 3.6l-3.6 3.6l-3.6 -3.6zM521.0 40.3l3.6 3.6l-3.6 3.6l-3.6 -3.6zM522.2 40.3l3.6 3.6l-3.6 3.6l-3.6 -3.6zM523.4 40.2l3.6 3.6l-3.6 3.6l-3.6 -3.6zM524.6 40.2l3.6 3.6l-3.6 3.6l-3.6 -3.6zM525.8 40.2l3.6 3.6l-3.6 3.6l-3.6 -3.6zM527.0 40.1l3.6 3.6l-3.6 3.6l-3.6 -3.6zM528.2 40.1l3.6 3.6l-3.6 3.6l-3.6 -3.6zM529.4 40.0l3.6 3.6l-3.6 3.6l-3.6 -3.6zM530.6 40.0l3.6 3.6l-3.6 3.6l-3.6 -3.6zM531.8 39.9l3.6 3.6l-3.6 3.6l-3.6 -3.6zM533.0 39.9l3.6 3.6l-3.6 3.6l-3.6 -3.6zM534.2 39.8l3.6 3.6l-3.6 3.6l-3.6 -3.6zM535.4 39.7l3.6 3.6l-3.6 3.6l-3.6 -3.6zM536.6 39.7l3.6 3.6l-3.6 3.6l-3.6 -3.6zM537.8 39.6l3.6 3.6l-3.6 3.6l-3.6 -3.6zM539.0 39.5l3.6 3.6l-3.6 3.6l-3.6 -3.6zM540.2 39.5l3.6 3.6l-3.6 3.6l-3.6 -3.6zM541.4 39.5l3.6 3.6l-3.6 3.6l-3.6 -3.6zM542.6 39.4l3.6 3.6l-3.6 3.6l-3.6 -3.6zM543.8 39.4l3.6 3.6l-3.6 3.6l-3.6 -3.6zM545.0 39.4l3.6 3.6l-3.6 3.6l-3.6 -3.6zM546.2 39.3l3.6 3.6l-3.6 3.6l-3.6 -3.6zM547.4 39.3l3.6 3.6l-3.6 3.6l-3.6 -3.6zM548.6 39.3l3.6 3.6l-3.6 3.6l-3.6 -3.6zM549.8 39.2l3.6 3.6l-3.6 3.6l-3.6 -3.6zM551.0 39.2l3.6 3.6l-3.6 3.6l-3.6 -3.6zM552.2 39.2l3.6 3.6l-3.6 3.6l-3.6 -3.6zM553.4 39.2l3.6 3.6l-3.6 3.6l-3.6 -3.6zM554.6 39.2l3.6 3.6l-3.6 3.6l-3.6 -3.6zM555.8 39.1l3.6 3.6l-3.6 3.6l-3.6 -3.6zM557.0 39.1l3.6 3.6l-3.6 3.6l-3.6 -3.6zM558.2 39.1l3.6 3.6l-3.6 3.6l-3.6 -3.6zM559.4 39.1l3.6 3.6l-3.6 3.6l-3.6 -3.6zM560.6 39.1l3.6 3.6l-3.6 3.6l-3.6 -3.6zM561.8 39.1l3.6 3.6l-3.6 3.6l-3.6 -3.6zM563.0 39.0l3.6 3.6l-3.6 3.6l-3.6 -3.6zM564.2 39.0l3.6 3.6l-3.6 3.6l-3.6 -3.6zM565.4 39.0l3.6 3.6l-3.6 3.6l-3.6 -3.6zM566.6 39.0l3.6 3.6l-3.6 3.6l-3.6 -3.6zM567.8 39.0l3.6 3.6l-3.6 3.6l-3.6 -3.6zM569.0 39.0l3.6 3.6l-3.6 3.6l-3.6 -3.6zM570.2 38.9l3.6 3.6l-3.6 3.6l-3.6 -3.6zM571.4 38.9l3.6 3.6l-3.6 3.6l-3.6 -3.6zM572.6 38.9l3.6 3.6l-3.6 3.6l-3.6 -3.6zM573.8 38.9l3.6 3.6l-3.6 3.6l-3.6 -3.6zM575.0 38.9l3.6 3.6l-3.6 3.6l-3.6 -3.6zM576.2 38.9l3.6 3.6l-3.6 3.6l-3.6 -3.6zM577.4 38.9l3.6 3.6l-3.6 3.6l-3.6 -3.6zM578.6 38.9l3.6 3.6l-3.6 3.6l-3.6 -3.6zM579.8 38.8l3.6 3.6l-3.6 3.6l-3.6 -3.6zM581.0 38.8l3.6 3.6l-3.6 3.6l-3.6 -3.6zM582.2 38.8l3.6 3.6l-3.6 3.6l-3.6 -3.6zM583.4 38.8l3.6 3.6l-3.6 3.6l-3.6 -3.6zM584.6 38.8l3.6 3.6l-3.6 3.6l-3.6 -3.6zM585.8 38.8l3.6 3.6l-3.6 3.6l-3.6 -3.6zM587.0 38.8l3.6 3.6l-3.6 3.6l-3.6 -3.6zM588.2 38.7l3.6 3.6l-3.6 3.6l-3.6 -3.6zM589.4 38.7l3.6 3.6l-3.6 3.6l-3.6 -3.6zM590.6 38.7l3.6 3.6l-3.6 3.6l-3.6 -3.6zM591.8 38.7l3.6 3.6l-3.6 3.6l-3.6 -3.6zM593.0 38.7l3.6 3.6l-3.6 3.6l-3.6 -3.6zM594.2 38.7l3.6 3.6l-3.6 3.6l-3.6 -3.6zM595.4 38.6l3.6 3.6l-3.6 3.6l-3.6 -3.6zM596.6 38.6l3.6 3.6l-3.6 3.6l-3.6 -3.6zM597.8 38.6l3.6 3.6l-3.6 3.6l-3.6 -3.6zM599.0 38.6l3.6 3.6l-3.6 3.6l-3.6 -3.6zM600.2 38.6l3.6 3.6l-3.6 3.6l-3.6 -3.6zM601.4 38.6l3.6 3.6l-3.6 3.6l-3.6 -3.6zM602.6 38.5l3.6 3.6l-3.6 3.6l-3.6 -3.6zM603.8 38.5l3.6 3.6l-3.6 3.6l-3.6 -3.6zM605.0 38.5l3.6 3.6l-3.6 3.6l-3.6 -3.6zM606.2 38.5l3.6 3.6l-3.6 3.6l-3.6 -3.6zM607.4 38.5l3.6 3.6l-3.6 3.6l-3.6 -3.6zM608.6 38.5l3.6 3.6l-3.6 3.6l-3.6 -3.6zM609.8 38.4l3.6 3.6l-3.6 3.6l-3.6 -3.6zM611.0 38.4l3.6 3.6l-3.6 3.6l-3.6 -3.6zM612.2 38.4l3.6 3.6l-3.6 3.6l-3.6 -3.6zM613.4 38.4l3.6 3.6l-3.6 3.6l-3.6 -3.6zM614.6 38.4l3.6 3.6l-3.6 3.6l-3.6 -3.6zM615.8 38.4l3.6 3.6l-3.6 3.6l-3.6 -3.6zM617.0 38.4l3.6 3.6l-3.6 3.6l-3.6 -3.6zM618.2 38.3l3.6 3.6l-3.6 3.6l-3.6 -3.6zM619.4 38.3l3.6 3.6l-3.6 3.6l-3.6 -3.6zM620.6 38.3l3.6 3.6l-3.6 3.6l-3.6 -3.6zM621.8 38.3l3.6 3.6l-3.6 3.6l-3.6 -3.6zM623.0 38.3l3.6 3.6l-3.6 3.6l-3.6 -3.6zM624.2 38.3l3.6 3.6l-3.6 3.6l-3.6 -3.6zM625.4 38.3l3.6 3.6l-3.6 3.6l-3.6 -3.6zM626.6 38.3l3.6 3.6l-3.6 3.6l-3.6 -3.6zM627.8 38.3l3.6 3.6l-3.6 3.6l-3.6 -3.6zM629.0 38.2l3.6 3.6l-3.6 3.6l-3.6 -3.6zM630.3 38.2l3.6 3.6l-3.6 3.6l-3.6 -3.6zM631.5 38.2l3.6 3.6l-3.6 3.6l-3.6 -3.6zM632.7 38.2l3.6 3.6l-3.6 3.6l-3.6 -3.6zM633.9 38.2l3.6 3.6l-3.6 3.6l-3.6 -3.6zM635.1 38.2l3.6 3.6l-3.6 3.6l-3.6 -3.6zM636.3 38.2l3.6 3.6l-3.6 3.6l-3.6 -3.6zM637.5 38.2l3.6 3.6l-3.6 3.6l-3.6 -3.6zM638.7 38.2l3.6 3.6l-3.6 3.6l-3.6 -3.6zM639.9 38.2l3.6 3.6l-3.6 3.6l-3.6 -3.6zM641.1 38.1l3.6 3.6l-3.6 3.6l-3.6 -3.6zM642.3 38.1l3.6 3.6l-3.6 3.6l-3.6 -3.6zM643.5 38.1l3.6 3.6l-3.6 3.6l-3.6 -3.6zM644.7 38.1l3.6 3.6l-3.6 3.6l-3.6 -3.6zM645.9 38.1l3.6 3.6l-3.6 3.6l-3.6 -3.6zM647.1 38.1l3.6 3.6l-3.6 3.6l-3.6 -3.6zM648.3 38.1l3.6 3.6l-3.6 3.6l-3.6 -3.6zM649.5 38.1l3.6 3.6l-3.6 3.6l-3.6 -3.6zM650.7 38.0l3.6 3.6l-3.6 3.6l-3.6 -3.6zM651.9 38.0l3.6 3.6l-3.6 3.6l-3.6 -3.6zM653.1 38.0l3.6 3.6l-3.6 3.6l-3.6 -3.6zM654.3 38.0l3.6 3.6l-3.6 3.6l-3.6 -3.6zM655.5 38.0l3.6 3.6l-3.6 3.6l-3.6 -3.6zM656.7 38.0l3.6 3.6l-3.6 3.6l-3.6 -3.6zM657.9 38.0l3.6 3.6l-3.6 3.6l-3.6 -3.6zM659.1 38.0l3.6 3.6l-3.6 3.6l-3.6 -3.6zM660.3 37.9l3.6 3.6l-3.6 3.6l-3.6 -3.6zM661.5 37.9l3.6 3.6l-3.6 3.6l-3.6 -3.6zM662.7 37.9l3.6 3.6l-3.6 3.6l-3.6 -3.6zM663.9 37.9l3.6 3.6l-3.6 3.6l-3.6 -3.6zM665.1 37.9l3.6 3.6l-3.6 3.6l-3.6 -3.6zM666.3 37.9l3.6 3.6l-3.6 3.6l-3.6 -3.6zM667.5 37.9l3.6 3.6l-3.6 3.6l-3.6 -3.6zM668.7 37.9l3.6 3.6l-3.6 3.6l-3.6 -3.6zM669.9 37.8l3.6 3.6l-3.6 3.6l-3.6 -3.6zM671.1 37.8l3.6 3.6l-3.6 3.6l-3.6 -3.6zM672.3 37.8l3.6 3.6l-3.6 3.6l-3.6 -3.6zM673.5 37.8l3.6 3.6l-3.6 3.6l-3.6 -3.6zM674.7 37.8l3.6 3.6l-3.6 3.6l-3.6 -3.6zM675.9 37.8l3.6 3.6l-3.6 3.6l-3.6 -3.6zM677.1 37.8l3.6 3.6l-3.6 3.6l-3.6 -3.6zM678.3 37.8l3.6 3.6l-3.6 3.6l-3.6 -3.6zM679.5 37.8l3.6 3.6l-3.6 3.6l-3.6 -3.6zM680.7 37.7l3.6 3.6l-3.6 3.6l-3.6 -3.6zM681.9 37.7l3.6 3.6l-3.6 3.6l-3.6 -3.6zM683.1 37.7l3.6 3.6l-3.6 3.6l-3.6 -3.6zM684.3 37.7l3.6 3.6l-3.6 3.6l-3.6 -3.6zM685.5 37.7l3.6 3.6l-3.6 3.6l-3.6 -3.6zM686.7 37.7l3.6 3.6l-3.6 3.6l-3.6 -3.6zM687.9 37.7l3.6 3.6l-3.6 3.6l-3.6 -3.6zM689.1 37.7l3.6 3.6l-3.6 3.6l-3.6 -3.6zM690.3 37.7l3.6 3.6l-3.6 3.6l-3.6 -3.6zM691.5 37.7l3.6 3.6l-3.6 3.6l-3.6 -3.6zM692.7 37.7l3.6 3.6l-3.6 3.6l-3.6 -3.6zM693.9 37.6l3.6 3.6l-3.6 3.6l-3.6 -3.6zM695.1 37.6l3.6 3.6l-3.6 3.6l-3.6 -3.6zM696.3 37.6l3.6 3.6l-3.6 3.6l-3.6 -3.6zM697.5 37.6l3.6 3.6l-3.6 3.6l-3.6 -3.6zM698.7 37.6l3.6 3.6l-3.6 3.6l-3.6 -3.6zM699.9 37.6l3.6 3.6l-3.6 3.6l-3.6 -3.6zM701.1 37.6l3.6 3.6l-3.6 3.6l-3.6 -3.6zM702.3 37.6l3.6 3.6l-3.6 3.6l-3.6 -3.6zM703.5 37.6l3.6 3.6l-3.6 3.6l-3.6 -3.6zM704.7 37.6l3.6 3.6l-3.6 3.6l-3.6 -3.6zM705.9 37.6l3.6 3.6l-3.6 3.6l-3.6 -3.6zM707.1 37.6l3.6 3.6l-3.6 3.6l-3.6 -3.6zM708.3 37.6l3.6 3.6l-3.6 3.6l-3.6 -3.6zM709.5 37.5l3.6 3.6l-3.6 3.6l-3.6 -3.6zM710.7 37.5l3.6 3.6l-3.6 3.6l-3.6 -3.6zM711.9 37.5l3.6 3.6l-3.6 3.6l-3.6 -3.6zM713.1 37.5l3.6 3.6l-3.6 3.6l-3.6 -3.6zM714.3 37.5l3.6 3.6l-3.6 3.6l-3.6 -3.6zM715.5 37.5l3.6 3.6l-3.6 3.6l-3.6 -3.6zM716.7 37.5l3.6 3.6l-3.6 3.6l-3.6 -3.6zM717.9 37.5l3.6 3.6l-3.6 3.6l-3.6 -3.6zM719.1 37.5l3.6 3.6l-3.6 3.6l-3.6 -3.6zM720.3 37.5l3.6 3.6l-3.6 3.6l-3.6 -3.6zM721.5 37.5l3.6 3.6l-3.6 3.6l-3.6 -3.6zM722.7 37.5l3.6 3.6l-3.6 3.6l-3.6 -3.6zM723.9 37.5l3.6 3.6l-3.6 3.6l-3.6 -3.6zM725.1 37.5l3.6 3.6l-3.6 3.6l-3.6 -3.6zM726.3 37.5l3.6 3.6l-3.6 3.6l-3.6 -3.6zM727.5 37.5l3.6 3.6l-3.6 3.6l-3.6 -3.6zM728.7 37.5l3.6 3.6l-3.6 3.6l-3.6 -3.6zM729.9 37.5l3.6 3.6l-3.6 3.6l-3.6 -3.6zM731.2 37.4l3.6 3.6l-3.6 3.6l-3.6 -3.6z" fill="#4472c4"/>
<line x1="618.5" y1="106.1" x2="638.8" y2="106.1" stroke="#4472c4" stroke-width="2"/>
<path d="M628.1 103.1l3 3l-3 3l-3 -3z" fill="#4472c4"/>
<text x="639.84" y="110.3" font-size="13.91" textLength="61.55" lengthAdjust="spacingAndGlyphs" fill="#1e1e1e">Radius=1</text>
<g stroke="#d9d9d9" stroke-width="1"><line x1="403.85" y1="367.17" x2="723" y2="367.17"/><line x1="403.85" y1="345.43" x2="723" y2="345.43"/><line x1="403.85" y1="323.70" x2="723" y2="323.70"/><line x1="403.85" y1="301.97" x2="723" y2="301.97"/><line x1="403.85" y1="280.23" x2="723" y2="280.23"/><line x1="403.85" y1="258.50" x2="723" y2="258.50"/><line x1="481.74" y1="256" x2="481.74" y2="388.9"/><line x1="559.63" y1="256" x2="559.63" y2="388.9"/><line x1="637.52" y1="256" x2="637.52" y2="388.9"/><line x1="715.41" y1="256" x2="715.41" y2="388.9"/></g>
<path d="M403.85 256V388.9H723" fill="none" stroke="#c8c8c8" stroke-width="1"/>
<text x="358.67" y="245.0" font-size="13.04" font-weight="bold" textLength="189.8" lengthAdjust="spacingAndGlyphs" fill="#474747">Post-bleach profile at t=2.5s</text>
<text x="382.55" y="393.29999999999995" font-size="13" font-weight="bold" fill="#474747">4</text>
<text x="382.81" y="371.56699999999995" font-size="13" font-weight="bold" fill="#474747">5</text>
<text x="382.94" y="349.83399999999995" font-size="13" font-weight="bold" fill="#474747">6</text>
<text x="383.00" y="328.10099999999994" font-size="13" font-weight="bold" fill="#474747">7</text>
<text x="382.88" y="306.36799999999994" font-size="13" font-weight="bold" fill="#474747">8</text>
<text x="382.94" y="284.63499999999993" font-size="13" font-weight="bold" fill="#474747">9</text>
<text x="375.79" y="262.90199999999993" font-size="13" font-weight="bold" fill="#474747">10</text>
<text x="403.85" y="412.5" font-size="13" font-weight="bold" text-anchor="middle" fill="#474747">0</text>
<text x="481.74" y="412.5" font-size="13" font-weight="bold" text-anchor="middle" fill="#474747">5</text>
<text x="559.63" y="412.5" font-size="13" font-weight="bold" text-anchor="middle" fill="#474747">10</text>
<text x="637.52" y="412.5" font-size="13" font-weight="bold" text-anchor="middle" fill="#474747">15</text>
<text x="715.41" y="412.5" font-size="13" font-weight="bold" text-anchor="middle" fill="#474747">20</text>
<text x="461.67" y="438.9" font-size="14.20" font-weight="bold" textLength="180.98" lengthAdjust="spacingAndGlyphs" fill="#474747" style="white-space:pre">Distance  from center (μm)</text>
<text transform="translate(358.00 366.89) rotate(-90)" font-size="14.30" font-weight="bold" textLength="87.79" lengthAdjust="spacingAndGlyphs" fill="#474747">Fluorescence</text>
<polyline points="403.85,381.08 404.63,381.00 405.41,380.78 406.19,380.46 406.97,380.06 407.74,379.60 408.52,379.12 409.30,378.49 410.08,377.61 410.86,376.57 411.64,375.44 412.42,374.30 413.20,373.23 413.98,372.28 414.75,371.38 415.53,370.50 416.31,369.58 417.09,368.56 417.87,367.42 418.65,366.08 419.43,364.52 420.21,362.77 420.99,360.87 421.76,358.84 422.54,356.73 423.32,354.45 424.10,351.85 424.88,349.09 425.66,346.32 426.44,343.70 427.22,341.19 428.00,338.70 428.77,336.25 429.55,333.86 430.33,331.56 431.11,329.35 431.89,327.25 432.67,325.22 433.45,323.26 434.23,321.36 435.01,319.51 435.78,317.69 436.56,315.95 437.34,314.28 438.12,312.64 438.90,311.01 439.68,309.35 440.46,307.62 441.24,305.78 442.02,303.84 442.80,301.88 443.57,299.97 444.35,298.18 445.13,296.56 445.91,295.04 446.69,293.59 447.47,292.20 448.25,290.89 449.03,289.64 449.81,288.47 450.58,287.36 451.36,286.32 452.14,285.32 452.92,284.34 453.70,283.38 454.48,282.41 455.26,281.43 456.04,280.44 456.82,279.47 457.59,278.52 458.37,277.60 459.15,276.71 459.93,275.86 460.71,275.00 461.49,274.17 462.27,273.35 463.05,272.55 463.83,271.79 464.60,271.07 465.38,270.40 466.16,269.78 466.94,269.18 467.72,268.60 468.50,268.04 469.28,267.50 470.06,266.99 470.84,266.50 471.61,266.03 472.39,265.60 473.17,265.19 473.95,264.80 474.73,264.44 475.51,264.09 476.29,263.74 477.07,263.41 477.85,263.10 478.62,262.81 479.40,262.53 480.18,262.28 480.96,262.06 481.74,261.86 482.52,261.70 483.30,261.55 484.08,261.40 484.86,261.26 485.63,261.12 486.41,260.99 487.19,260.87 487.97,260.75 488.75,260.64 489.53,260.53 490.31,260.43 491.09,260.33 491.87,260.24 492.64,260.15 493.42,260.06 494.20,259.98 494.98,259.91 495.76,259.83 496.54,259.76 497.32,259.70 498.10,259.64 498.88,259.58 499.65,259.52 500.43,259.46 501.21,259.40 501.99,259.34 502.77,259.29 503.55,259.23 504.33,259.17 505.11,259.12 505.89,259.06 506.66,259.01 507.44,258.96 508.22,258.91 509.00,258.86 509.78,258.82 510.56,258.78 511.34,258.74 512.12,258.70 512.90,258.66 513.67,258.63 514.45,258.60 515.23,258.58 516.01,258.55 516.79,258.54 517.57,258.52 518.35,258.51 519.13,258.50 519.91,258.50 520.69,258.50 521.46,258.50 522.24,258.50 523.02,258.50 523.80,258.50 524.58,258.50 525.36,258.50 526.14,258.50 526.92,258.50 527.70,258.50 528.47,258.50 529.25,258.50 530.03,258.50 530.81,258.50 531.59,258.50 532.37,258.50 533.15,258.50 533.93,258.50 534.71,258.50 535.48,258.50 536.26,258.50 537.04,258.50 537.82,258.50 538.60,258.50 539.38,258.50 540.16,258.50 540.94,258.50 541.72,258.50 542.49,258.50 543.27,258.50 544.05,258.50 544.83,258.50 545.61,258.50 546.39,258.50 547.17,258.50 547.95,258.50 548.73,258.50 549.50,258.50 550.28,258.50 551.06,258.50 551.84,258.50 552.62,258.50 553.40,258.50 554.18,258.50 554.96,258.50 555.74,258.50 556.51,258.50 557.29,258.50 558.07,258.50 558.85,258.50 559.63,258.50 560.41,258.50 561.19,258.50 561.97,258.50 562.75,258.50 563.52,258.50 564.30,258.50 565.08,258.50 565.86,258.50 566.64,258.50 567.42,258.50 568.20,258.50 568.98,258.50 569.76,258.50 570.53,258.50 571.31,258.50 572.09,258.50 572.87,258.50 573.65,258.50 574.43,258.50 575.21,258.50 575.99,258.50 576.77,258.50 577.54,258.50 578.32,258.50 579.10,258.50 579.88,258.50 580.66,258.50 581.44,258.50 582.22,258.50 583.00,258.50 583.78,258.50 584.55,258.50 585.33,258.50 586.11,258.50 586.89,258.50 587.67,258.50 588.45,258.50 589.23,258.50 590.01,258.50 590.79,258.50 591.56,258.50 592.34,258.50 593.12,258.50 593.90,258.50 594.68,258.50 595.46,258.50 596.24,258.50 597.02,258.50 597.80,258.50 598.58,258.50 599.35,258.50 600.13,258.50 600.91,258.50 601.69,258.50 602.47,258.50 603.25,258.50 604.03,258.50 604.81,258.50 605.59,258.50 606.36,258.50 607.14,258.50 607.92,258.50 608.70,258.50 609.48,258.50 610.26,258.50 611.04,258.50 611.82,258.50 612.60,258.50 613.37,258.50 614.15,258.50 614.93,258.50 615.71,258.50 616.49,258.50 617.27,258.50 618.05,258.50 618.83,258.50 619.61,258.50 620.38,258.50 621.16,258.50 621.94,258.50 622.72,258.50 623.50,258.50 624.28,258.50 625.06,258.50 625.84,258.50 626.62,258.50 627.39,258.50 628.17,258.50 628.95,258.50 629.73,258.50 630.51,258.50 631.29,258.50 632.07,258.50 632.85,258.50 633.63,258.50 634.40,258.50 635.18,258.50 635.96,258.50 636.74,258.50 637.52,258.50 638.30,258.50 639.08,258.50 639.86,258.50 640.64,258.50 641.41,258.50 642.19,258.50 642.97,258.50 643.75,258.50 644.53,258.50 645.31,258.50 646.09,258.50 646.87,258.50 647.65,258.50 648.42,258.50 649.20,258.50 649.98,258.50 650.76,258.50 651.54,258.50 652.32,258.50 653.10,258.50 653.88,258.50 654.66,258.50 655.43,258.50 656.21,258.50 656.99,258.50 657.77,258.50 658.55,258.50 659.33,258.50 660.11,258.50 660.89,258.50 661.67,258.50 662.44,258.50 663.22,258.50 664.00,258.50 664.78,258.50 665.56,258.50 666.34,258.50 667.12,258.50 667.90,258.50 668.68,258.50 669.45,258.50 670.23,258.50 671.01,258.50 671.79,258.50 672.57,258.50 673.35,258.50 674.13,258.50 674.91,258.50 675.69,258.50 676.47,258.50 677.24,258.50 678.02,258.50 678.80,258.50 679.58,258.50 680.36,258.50 681.14,258.50 681.92,258.50 682.70,258.50 683.48,258.50 684.25,258.50 685.03,258.50 685.81,258.50 686.59,258.50 687.37,258.50 688.15,258.50 688.93,258.50 689.71,258.50 690.49,258.50 691.26,258.50 692.04,258.50 692.82,258.50 693.60,258.50 694.38,258.50 695.16,258.50 695.94,258.50 696.72,258.50 697.50,258.50 698.27,258.50 699.05,258.50 699.83,258.50 700.61,258.50 701.39,258.50 702.17,258.50 702.95,258.50 703.73,258.50 704.51,258.50 705.28,258.50 706.06,258.50 706.84,258.50 707.62,258.50 708.40,258.50 709.18,258.50 709.96,258.50 710.74,258.50 711.52,258.50 712.29,258.50 713.07,258.50 713.85,258.50 714.63,258.50 715.41,258.50 716.19,258.50 716.97,258.50 717.75,258.50 718.53,258.50" fill="none" stroke="#ed7d31" stroke-width="1.5" stroke-linejoin="round" stroke-linecap="round"/>
<path d="M401.75 381.08a2.1 2.1 0 1 0 4.2 0a2.1 2.1 0 1 0 -4.2 0zM402.68 380.96a2.1 2.1 0 1 0 4.2 0a2.1 2.1 0 1 0 -4.2 0zM403.78 380.60a2.1 2.1 0 1 0 4.2 0a2.1 2.1 0 1 0 -4.2 0zM404.87 380.06a2.1 2.1 0 1 0 4.2 0a2.1 2.1 0 1 0 -4.2 0zM406.42 379.12a2.1 2.1 0 1 0 4.2 0a2.1 2.1 0 1 0 -4.2 0zM407.98 377.61a2.1 2.1 0 1 0 4.2 0a2.1 2.1 0 1 0 -4.2 0zM409.54 375.44a2.1 2.1 0 1 0 4.2 0a2.1 2.1 0 1 0 -4.2 0zM411.25 373.03a2.1 2.1 0 1 0 4.2 0a2.1 2.1 0 1 0 -4.2 0zM413.59 370.32a2.1 2.1 0 1 0 4.2 0a2.1 2.1 0 1 0 -4.2 0zM415.93 367.17a2.1 2.1 0 1 0 4.2 0a2.1 2.1 0 1 0 -4.2 0zM418.26 362.40a2.1 2.1 0 1 0 4.2 0a2.1 2.1 0 1 0 -4.2 0zM420.60 356.30a2.1 2.1 0 1 0 4.2 0a2.1 2.1 0 1 0 -4.2 0zM422.94 348.54a2.1 2.1 0 1 0 4.2 0a2.1 2.1 0 1 0 -4.2 0zM425.27 340.69a2.1 2.1 0 1 0 4.2 0a2.1 2.1 0 1 0 -4.2 0zM427.61 333.39a2.1 2.1 0 1 0 4.2 0a2.1 2.1 0 1 0 -4.2 0zM429.95 326.84a2.1 2.1 0 1 0 4.2 0a2.1 2.1 0 1 0 -4.2 0zM432.28 320.99a2.1 2.1 0 1 0 4.2 0a2.1 2.1 0 1 0 -4.2 0zM434.62 315.61a2.1 2.1 0 1 0 4.2 0a2.1 2.1 0 1 0 -4.2 0zM436.96 310.68a2.1 2.1 0 1 0 4.2 0a2.1 2.1 0 1 0 -4.2 0zM439.29 305.40a2.1 2.1 0 1 0 4.2 0a2.1 2.1 0 1 0 -4.2 0zM441.63 299.60a2.1 2.1 0 1 0 4.2 0a2.1 2.1 0 1 0 -4.2 0zM443.97 294.74a2.1 2.1 0 1 0 4.2 0a2.1 2.1 0 1 0 -4.2 0zM446.30 290.64a2.1 2.1 0 1 0 4.2 0a2.1 2.1 0 1 0 -4.2 0zM448.64 287.15a2.1 2.1 0 1 0 4.2 0a2.1 2.1 0 1 0 -4.2 0zM450.98 284.15a2.1 2.1 0 1 0 4.2 0a2.1 2.1 0 1 0 -4.2 0zM453.31 281.23a2.1 2.1 0 1 0 4.2 0a2.1 2.1 0 1 0 -4.2 0zM455.65 278.34a2.1 2.1 0 1 0 4.2 0a2.1 2.1 0 1 0 -4.2 0zM457.99 275.68a2.1 2.1 0 1 0 4.2 0a2.1 2.1 0 1 0 -4.2 0zM460.32 273.19a2.1 2.1 0 1 0 4.2 0a2.1 2.1 0 1 0 -4.2 0zM462.66 270.93a2.1 2.1 0 1 0 4.2 0a2.1 2.1 0 1 0 -4.2 0zM465.00 269.06a2.1 2.1 0 1 0 4.2 0a2.1 2.1 0 1 0 -4.2 0zM467.33 267.40a2.1 2.1 0 1 0 4.2 0a2.1 2.1 0 1 0 -4.2 0zM469.67 265.94a2.1 2.1 0 1 0 4.2 0a2.1 2.1 0 1 0 -4.2 0zM472.01 264.73a2.1 2.1 0 1 0 4.2 0a2.1 2.1 0 1 0 -4.2 0zM474.34 263.68a2.1 2.1 0 1 0 4.2 0a2.1 2.1 0 1 0 -4.2 0zM476.68 262.75a2.1 2.1 0 1 0 4.2 0a2.1 2.1 0 1 0 -4.2 0zM479.02 262.02a2.1 2.1 0 1 0 4.2 0a2.1 2.1 0 1 0 -4.2 0zM481.35 261.52a2.1 2.1 0 1 0 4.2 0a2.1 2.1 0 1 0 -4.2 0zM483.69 261.10a2.1 2.1 0 1 0 4.2 0a2.1 2.1 0 1 0 -4.2 0zM486.03 260.73a2.1 2.1 0 1 0 4.2 0a2.1 2.1 0 1 0 -4.2 0zM488.36 260.41a2.1 2.1 0 1 0 4.2 0a2.1 2.1 0 1 0 -4.2 0zM490.70 260.13a2.1 2.1 0 1 0 4.2 0a2.1 2.1 0 1 0 -4.2 0zM493.04 259.89a2.1 2.1 0 1 0 4.2 0a2.1 2.1 0 1 0 -4.2 0zM495.37 259.69a2.1 2.1 0 1 0 4.2 0a2.1 2.1 0 1 0 -4.2 0zM497.71 259.51a2.1 2.1 0 1 0 4.2 0a2.1 2.1 0 1 0 -4.2 0zM500.05 259.33a2.1 2.1 0 1 0 4.2 0a2.1 2.1 0 1 0 -4.2 0zM502.38 259.16a2.1 2.1 0 1 0 4.2 0a2.1 2.1 0 1 0 -4.2 0zM504.72 259.00a2.1 2.1 0 1 0 4.2 0a2.1 2.1 0 1 0 -4.2 0zM507.06 258.86a2.1 2.1 0 1 0 4.2 0a2.1 2.1 0 1 0 -4.2 0zM509.39 258.73a2.1 2.1 0 1 0 4.2 0a2.1 2.1 0 1 0 -4.2 0zM511.73 258.63a2.1 2.1 0 1 0 4.2 0a2.1 2.1 0 1 0 -4.2 0zM514.07 258.55a2.1 2.1 0 1 0 4.2 0a2.1 2.1 0 1 0 -4.2 0zM516.40 258.51a2.1 2.1 0 1 0 4.2 0a2.1 2.1 0 1 0 -4.2 0zM518.74 258.50a2.1 2.1 0 1 0 4.2 0a2.1 2.1 0 1 0 -4.2 0zM521.08 258.50a2.1 2.1 0 1 0 4.2 0a2.1 2.1 0 1 0 -4.2 0zM523.41 258.50a2.1 2.1 0 1 0 4.2 0a2.1 2.1 0 1 0 -4.2 0zM525.75 258.50a2.1 2.1 0 1 0 4.2 0a2.1 2.1 0 1 0 -4.2 0zM528.09 258.50a2.1 2.1 0 1 0 4.2 0a2.1 2.1 0 1 0 -4.2 0zM530.42 258.50a2.1 2.1 0 1 0 4.2 0a2.1 2.1 0 1 0 -4.2 0zM532.76 258.50a2.1 2.1 0 1 0 4.2 0a2.1 2.1 0 1 0 -4.2 0zM535.10 258.50a2.1 2.1 0 1 0 4.2 0a2.1 2.1 0 1 0 -4.2 0zM537.43 258.50a2.1 2.1 0 1 0 4.2 0a2.1 2.1 0 1 0 -4.2 0zM539.77 258.50a2.1 2.1 0 1 0 4.2 0a2.1 2.1 0 1 0 -4.2 0zM542.11 258.50a2.1 2.1 0 1 0 4.2 0a2.1 2.1 0 1 0 -4.2 0zM544.44 258.50a2.1 2.1 0 1 0 4.2 0a2.1 2.1 0 1 0 -4.2 0zM546.78 258.50a2.1 2.1 0 1 0 4.2 0a2.1 2.1 0 1 0 -4.2 0zM549.12 258.50a2.1 2.1 0 1 0 4.2 0a2.1 2.1 0 1 0 -4.2 0zM551.45 258.50a2.1 2.1 0 1 0 4.2 0a2.1 2.1 0 1 0 -4.2 0zM553.79 258.50a2.1 2.1 0 1 0 4.2 0a2.1 2.1 0 1 0 -4.2 0zM556.13 258.50a2.1 2.1 0 1 0 4.2 0a2.1 2.1 0 1 0 -4.2 0zM558.46 258.50a2.1 2.1 0 1 0 4.2 0a2.1 2.1 0 1 0 -4.2 0zM560.80 258.50a2.1 2.1 0 1 0 4.2 0a2.1 2.1 0 1 0 -4.2 0zM563.14 258.50a2.1 2.1 0 1 0 4.2 0a2.1 2.1 0 1 0 -4.2 0zM565.47 258.50a2.1 2.1 0 1 0 4.2 0a2.1 2.1 0 1 0 -4.2 0zM567.81 258.50a2.1 2.1 0 1 0 4.2 0a2.1 2.1 0 1 0 -4.2 0zM570.15 258.50a2.1 2.1 0 1 0 4.2 0a2.1 2.1 0 1 0 -4.2 0zM572.48 258.50a2.1 2.1 0 1 0 4.2 0a2.1 2.1 0 1 0 -4.2 0zM574.82 258.50a2.1 2.1 0 1 0 4.2 0a2.1 2.1 0 1 0 -4.2 0zM577.16 258.50a2.1 2.1 0 1 0 4.2 0a2.1 2.1 0 1 0 -4.2 0zM579.49 258.50a2.1 2.1 0 1 0 4.2 0a2.1 2.1 0 1 0 -4.2 0zM581.83 258.50a2.1 2.1 0 1 0 4.2 0a2.1 2.1 0 1 0 -4.2 0zM584.17 258.50a2.1 2.1 0 1 0 4.2 0a2.1 2.1 0 1 0 -4.2 0zM586.51 258.50a2.1 2.1 0 1 0 4.2 0a2.1 2.1 0 1 0 -4.2 0zM588.84 258.50a2.1 2.1 0 1 0 4.2 0a2.1 2.1 0 1 0 -4.2 0zM591.18 258.50a2.1 2.1 0 1 0 4.2 0a2.1 2.1 0 1 0 -4.2 0zM593.52 258.50a2.1 2.1 0 1 0 4.2 0a2.1 2.1 0 1 0 -4.2 0zM595.85 258.50a2.1 2.1 0 1 0 4.2 0a2.1 2.1 0 1 0 -4.2 0zM598.19 258.50a2.1 2.1 0 1 0 4.2 0a2.1 2.1 0 1 0 -4.2 0zM600.53 258.50a2.1 2.1 0 1 0 4.2 0a2.1 2.1 0 1 0 -4.2 0zM602.86 258.50a2.1 2.1 0 1 0 4.2 0a2.1 2.1 0 1 0 -4.2 0zM605.20 258.50a2.1 2.1 0 1 0 4.2 0a2.1 2.1 0 1 0 -4.2 0zM607.54 258.50a2.1 2.1 0 1 0 4.2 0a2.1 2.1 0 1 0 -4.2 0zM609.87 258.50a2.1 2.1 0 1 0 4.2 0a2.1 2.1 0 1 0 -4.2 0zM612.21 258.50a2.1 2.1 0 1 0 4.2 0a2.1 2.1 0 1 0 -4.2 0zM614.55 258.50a2.1 2.1 0 1 0 4.2 0a2.1 2.1 0 1 0 -4.2 0zM616.88 258.50a2.1 2.1 0 1 0 4.2 0a2.1 2.1 0 1 0 -4.2 0zM619.22 258.50a2.1 2.1 0 1 0 4.2 0a2.1 2.1 0 1 0 -4.2 0zM621.56 258.50a2.1 2.1 0 1 0 4.2 0a2.1 2.1 0 1 0 -4.2 0zM623.89 258.50a2.1 2.1 0 1 0 4.2 0a2.1 2.1 0 1 0 -4.2 0zM626.23 258.50a2.1 2.1 0 1 0 4.2 0a2.1 2.1 0 1 0 -4.2 0zM628.57 258.50a2.1 2.1 0 1 0 4.2 0a2.1 2.1 0 1 0 -4.2 0zM630.90 258.50a2.1 2.1 0 1 0 4.2 0a2.1 2.1 0 1 0 -4.2 0zM633.24 258.50a2.1 2.1 0 1 0 4.2 0a2.1 2.1 0 1 0 -4.2 0zM635.58 258.50a2.1 2.1 0 1 0 4.2 0a2.1 2.1 0 1 0 -4.2 0zM637.91 258.50a2.1 2.1 0 1 0 4.2 0a2.1 2.1 0 1 0 -4.2 0zM640.25 258.50a2.1 2.1 0 1 0 4.2 0a2.1 2.1 0 1 0 -4.2 0zM642.59 258.50a2.1 2.1 0 1 0 4.2 0a2.1 2.1 0 1 0 -4.2 0zM644.92 258.50a2.1 2.1 0 1 0 4.2 0a2.1 2.1 0 1 0 -4.2 0zM647.26 258.50a2.1 2.1 0 1 0 4.2 0a2.1 2.1 0 1 0 -4.2 0zM649.60 258.50a2.1 2.1 0 1 0 4.2 0a2.1 2.1 0 1 0 -4.2 0zM651.93 258.50a2.1 2.1 0 1 0 4.2 0a2.1 2.1 0 1 0 -4.2 0zM654.27 258.50a2.1 2.1 0 1 0 4.2 0a2.1 2.1 0 1 0 -4.2 0zM656.61 258.50a2.1 2.1 0 1 0 4.2 0a2.1 2.1 0 1 0 -4.2 0zM658.94 258.50a2.1 2.1 0 1 0 4.2 0a2.1 2.1 0 1 0 -4.2 0zM661.28 258.50a2.1 2.1 0 1 0 4.2 0a2.1 2.1 0 1 0 -4.2 0zM663.62 258.50a2.1 2.1 0 1 0 4.2 0a2.1 2.1 0 1 0 -4.2 0zM665.95 258.50a2.1 2.1 0 1 0 4.2 0a2.1 2.1 0 1 0 -4.2 0zM668.29 258.50a2.1 2.1 0 1 0 4.2 0a2.1 2.1 0 1 0 -4.2 0zM670.63 258.50a2.1 2.1 0 1 0 4.2 0a2.1 2.1 0 1 0 -4.2 0zM672.96 258.50a2.1 2.1 0 1 0 4.2 0a2.1 2.1 0 1 0 -4.2 0zM675.30 258.50a2.1 2.1 0 1 0 4.2 0a2.1 2.1 0 1 0 -4.2 0zM677.64 258.50a2.1 2.1 0 1 0 4.2 0a2.1 2.1 0 1 0 -4.2 0zM679.97 258.50a2.1 2.1 0 1 0 4.2 0a2.1 2.1 0 1 0 -4.2 0zM682.31 258.50a2.1 2.1 0 1 0 4.2 0a2.1 2.1 0 1 0 -4.2 0zM684.65 258.50a2.1 2.1 0 1 0 4.2 0a2.1 2.1 0 1 0 -4.2 0zM686.98 258.50a2.1 2.1 0 1 0 4.2 0a2.1 2.1 0 1 0 -4.2 0zM689.32 258.50a2.1 2.1 0 1 0 4.2 0a2.1 2.1 0 1 0 -4.2 0zM691.66 258.50a2.1 2.1 0 1 0 4.2 0a2.1 2.1 0 1 0 -4.2 0zM693.99 258.50a2.1 2.1 0 1 0 4.2 0a2.1 2.1 0 1 0 -4.2 0zM696.33 258.50a2.1 2.1 0 1 0 4.2 0a2.1 2.1 0 1 0 -4.2 0zM698.67 258.50a2.1 2.1 0 1 0 4.2 0a2.1 2.1 0 1 0 -4.2 0zM701.00 258.50a2.1 2.1 0 1 0 4.2 0a2.1 2.1 0 1 0 -4.2 0zM703.34 258.50a2.1 2.1 0 1 0 4.2 0a2.1 2.1 0 1 0 -4.2 0zM705.68 258.50a2.1 2.1 0 1 0 4.2 0a2.1 2.1 0 1 0 -4.2 0zM708.01 258.50a2.1 2.1 0 1 0 4.2 0a2.1 2.1 0 1 0 -4.2 0zM710.35 258.50a2.1 2.1 0 1 0 4.2 0a2.1 2.1 0 1 0 -4.2 0zM712.69 258.50a2.1 2.1 0 1 0 4.2 0a2.1 2.1 0 1 0 -4.2 0zM715.02 258.50a2.1 2.1 0 1 0 4.2 0a2.1 2.1 0 1 0 -4.2 0z" fill="#4472c4"/>
<path d="M516.00 329.30a2.3 2.3 0 1 0 4.6 0a2.3 2.3 0 1 0 -4.6 0z" fill="#4472c4"/>
<text x="529.79" y="334.2" font-size="14.06" textLength="34.49" lengthAdjust="spacingAndGlyphs" fill="#262626">Fluor</text>
<line x1="597.3" y1="329.5" x2="617.8" y2="329.5" stroke="#ed7d31" stroke-width="1.6"/>
<text x="618.55" y="334.2" font-size="14.06" textLength="35.7" lengthAdjust="spacingAndGlyphs" fill="#262626">Fit re</text>
<text x="0.71" y="493.3" font-size="13.91" font-weight="bold" textLength="11.01" lengthAdjust="spacingAndGlyphs" fill="#000">B</text>
<text x="79.9" y="492.8" font-size="15.22" textLength="155.54" lengthAdjust="spacingAndGlyphs" fill="#000">Bleach Radius = 4μm</text>
<clipPath id="clipB"><rect x="4.1" y="538.3" width="318.4" height="243.30000000000007"/></clipPath>
<clipPath id="sphB"><circle cx="165.3" cy="660.4" r="91"/></clipPath>
<rect x="4.1" y="538.3" width="318.4" height="243.30000000000007" fill="#000"/>
<g clip-path="url(#clipB)" stroke="#dcdcdc" stroke-width="1.1" fill="none">
<line x1="9.5" y1="737.2" x2="103.2" y2="693.3"/>
<line x1="147.5" y1="511.3" x2="103.2" y2="693.3"/>
<line x1="103.2" y1="693.3" x2="273.7" y2="764.5"/>
</g>
<circle cx="165.3" cy="660.4" r="91" fill="url(#sgB)"/>
<g clip-path="url(#sphB)"><rect x="74.30000000000001" y="569.4" width="182" height="182" fill="url(#spotB)"/></g>
<circle cx="165.3" cy="660.4" r="91" fill="url(#shadeB)"/>
<circle cx="165.3" cy="660.4" r="91" fill="url(#limbB)"/>
<g clip-path="url(#clipB)" stroke="#dcdcdc" stroke-width="1.1" fill="none">
<line x1="53.8" y1="555.2" x2="224.3" y2="626.4"/>
<line x1="53.8" y1="555.2" x2="147.5" y2="511.3"/>
<line x1="53.8" y1="555.2" x2="9.5" y2="737.2"/>
<line x1="9.5" y1="737.2" x2="180.0" y2="808.4"/>
<line x1="147.5" y1="511.3" x2="318.0" y2="582.5"/>
<line x1="224.3" y1="626.4" x2="318.0" y2="582.5"/>
<line x1="224.3" y1="626.4" x2="180.0" y2="808.4"/>
<line x1="180.0" y1="808.4" x2="273.7" y2="764.5"/>
<line x1="318.0" y1="582.5" x2="273.7" y2="764.5"/>
</g>
<g font-size="5.5" fill="#d0d0d0"><text x="66.1" y="548.5">z</text><text x="66.1" y="559.0">x</text><text x="51.099999999999994" y="566.2">y</text></g>
<text x="92.76" y="839.3" font-size="22.75" textLength="18.45" lengthAdjust="spacingAndGlyphs" fill="#000">D</text>
<text x="110.7" y="845.5" font-size="18.21" textLength="65.54" lengthAdjust="spacingAndGlyphs" fill="#000">confocal</text>
<text x="182.58" y="839.8" font-size="24.00" textLength="14.21" lengthAdjust="spacingAndGlyphs" fill="#000">=</text>
<text x="203.78" y="839.9" font-size="24.29" textLength="49.88" lengthAdjust="spacingAndGlyphs" fill="#000">1.83</text>
<text x="261.77" y="839.4" font-size="24.50" textLength="37.43" lengthAdjust="spacingAndGlyphs" fill="#000">μm</text>
<text x="299.93" y="830.9" font-size="15.57" textLength="9.66" lengthAdjust="spacingAndGlyphs" fill="#000">2</text>
<text x="310.0" y="839.4" font-size="25.00" textLength="21.61" lengthAdjust="spacingAndGlyphs" fill="#000">/s</text>
<g stroke="#d9d9d9" stroke-width="1"><line x1="409.5" y1="622.60" x2="730.8" y2="622.60"/><line x1="409.5" y1="595.30" x2="730.8" y2="595.30"/><line x1="409.5" y1="568.00" x2="730.8" y2="568.00"/><line x1="409.5" y1="540.70" x2="730.8" y2="540.70"/><line x1="409.5" y1="513.40" x2="730.8" y2="513.40"/><line x1="487.88" y1="506.4" x2="487.88" y2="649.9"/><line x1="566.25" y1="506.4" x2="566.25" y2="649.9"/><line x1="644.62" y1="506.4" x2="644.62" y2="649.9"/><line x1="723.00" y1="506.4" x2="723.00" y2="649.9"/></g>
<path d="M409.5 506.4V649.9H730.8" fill="none" stroke="#c8c8c8" stroke-width="1"/>
<text x="342.4" y="492.8" font-size="12.75" font-weight="bold" textLength="315.35" lengthAdjust="spacingAndGlyphs" fill="#474747" style="white-space:pre">Recovery for D=1, BleachRadius=4,  1s duration</text>
<text x="389.20" y="654.3" font-size="13" font-weight="bold" fill="#474747">0</text>
<text x="389.20" y="627.0" font-size="13" font-weight="bold" fill="#474747">2</text>
<text x="388.75" y="599.6999999999999" font-size="13" font-weight="bold" fill="#474747">4</text>
<text x="389.14" y="572.4" font-size="13" font-weight="bold" fill="#474747">6</text>
<text x="389.07" y="545.0999999999999" font-size="13" font-weight="bold" fill="#474747">8</text>
<text x="381.99" y="517.8" font-size="13" font-weight="bold" fill="#474747">10</text>
<text x="409.50" y="673" font-size="13" font-weight="bold" text-anchor="middle" fill="#474747">0</text>
<text x="487.88" y="673" font-size="13" font-weight="bold" text-anchor="middle" fill="#474747">50</text>
<text x="566.25" y="673" font-size="13" font-weight="bold" text-anchor="middle" fill="#474747">100</text>
<text x="644.62" y="673" font-size="13" font-weight="bold" text-anchor="middle" fill="#474747">150</text>
<text x="723.00" y="673" font-size="13" font-weight="bold" text-anchor="middle" fill="#474747">200</text>
<text x="542.66" y="695" font-size="14.20" font-weight="bold" textLength="54.91" lengthAdjust="spacingAndGlyphs" fill="#474747">Time (s)</text>
<text transform="translate(363.20 622.79) rotate(-90)" font-size="14.30" font-weight="bold" textLength="88.20" lengthAdjust="spacingAndGlyphs" fill="#474747">Fluorescence</text>
<polyline points="409.50,513.40 411.07,513.40 411.60,513.40 411.60,633.38 411.22,639.66 411.54,643.07 412.20,646.08 413.00,639.94" fill="none" stroke="#4472c4" stroke-width="1.6" stroke-linejoin="round" stroke-linecap="round"/>
<polyline points="412.20,646.08 412.27,645.45 412.35,644.82 412.43,644.20 412.51,643.58 412.59,642.98 412.67,642.37 412.74,641.78 412.82,641.19 412.90,640.62 412.98,640.05 413.06,639.49 413.14,638.95 413.21,638.41 413.29,637.89 413.37,637.38 413.45,636.87 413.53,636.36 413.61,635.86 413.69,635.36 413.76,634.85 413.84,634.34 413.92,633.82 414.00,633.30 414.08,632.76 414.16,632.22 414.23,631.66 414.31,631.09 414.39,630.52 414.47,629.95 414.55,629.37 414.63,628.78 414.70,628.19 414.78,627.60 414.86,626.99 414.94,626.38 415.02,625.75 415.10,625.12 415.17,624.47 415.25,623.81 415.33,623.15 415.41,622.46 415.49,621.75 415.57,621.00 415.64,620.23 415.72,619.44 415.80,618.62 415.88,617.80 415.96,616.97 416.04,616.14 416.11,615.31 416.19,614.49 416.27,613.69 416.35,612.90 416.43,612.15 416.51,611.42 416.59,610.72 416.66,610.04 416.74,609.37 416.82,608.70 416.90,608.05 416.98,607.40 417.06,606.76 417.13,606.13 417.21,605.51 417.29,604.90 417.37,604.30 417.45,603.71 417.53,603.13 417.60,602.56 417.68,602.00 417.76,601.45 417.84,600.91 417.92,600.38 418.00,599.87 418.07,599.36 418.15,598.86 418.23,598.37 418.31,597.88 418.39,597.41 418.47,596.94 418.54,596.47 418.62,596.02 418.70,595.57 418.78,595.12 418.86,594.68 418.94,594.24 419.01,593.81 419.09,593.38 419.17,592.96 419.25,592.54 419.33,592.12 419.41,591.70 419.48,591.29 419.56,590.87 419.64,590.46 419.72,590.05 419.80,589.64 419.88,589.24 419.96,588.84 420.03,588.45 420.11,588.07 420.19,587.69 420.27,587.32 420.35,586.97 420.43,586.62 420.50,586.29 420.58,585.97 420.66,585.65 420.74,585.33 420.82,585.02 420.90,584.70 420.97,584.40 421.05,584.09 421.13,583.79 421.21,583.49 421.29,583.19 421.37,582.90 421.44,582.61 421.52,582.32 421.60,582.04 421.68,581.76 421.76,581.48 421.84,581.20 421.91,580.92 421.99,580.65 422.07,580.38 422.15,580.12 422.23,579.85 422.31,579.59 422.38,579.33 422.46,579.07 422.54,578.82 422.62,578.56 422.70,578.31 422.78,578.06 422.86,577.82 422.93,577.57 423.01,577.33 423.09,577.09 423.17,576.85 423.25,576.61 423.33,576.37 423.40,576.14 423.48,575.91 423.56,575.68 423.64,575.45 423.72,575.22 423.80,575.00 423.87,574.77 423.95,574.55 424.03,574.33 424.11,574.11 424.19,573.89 424.27,573.67 424.34,573.45 424.42,573.23 424.50,573.02 424.58,572.80 424.66,572.59 424.74,572.38 424.81,572.16 424.89,571.95 424.97,571.74 425.05,571.54 425.13,571.33 425.21,571.12 425.28,570.92 425.36,570.71 425.44,570.51 425.52,570.31 425.60,570.11 425.68,569.91 425.75,569.71 425.83,569.51 425.91,569.32 425.99,569.12 426.07,568.93 426.15,568.74 426.23,568.55 426.30,568.36 426.38,568.17 426.46,567.99 426.54,567.80 426.62,567.62 426.70,567.44 426.77,567.26 426.85,567.08 426.93,566.91 427.01,566.73 427.09,566.56 427.17,566.39 427.24,566.22 427.32,566.05 427.40,565.88 427.48,565.72 427.56,565.55 427.64,565.39 427.71,565.23 427.79,565.07 427.87,564.92 427.95,564.76 428.03,564.61 428.11,564.46 428.18,564.31 428.26,564.16 428.34,564.02 428.42,563.88 428.50,563.73 428.58,563.59 428.65,563.45 428.73,563.31 428.81,563.18 428.89,563.04 428.97,562.90 429.05,562.77 429.13,562.63 429.20,562.50 429.28,562.36 429.36,562.23 429.44,562.10 429.52,561.97 429.60,561.84 429.67,561.71 429.75,561.58 429.83,561.45 429.91,561.33 429.99,561.20 430.07,561.08 430.14,560.95 430.22,560.83 430.30,560.70 430.38,560.58 430.46,560.46 430.54,560.34 430.61,560.22 430.69,560.10 430.77,559.98 430.85,559.86 430.93,559.75 431.01,559.63 431.08,559.52 431.16,559.40 431.24,559.29 431.32,559.17 431.40,559.06 431.48,558.95 431.55,558.84 431.63,558.73 431.71,558.62 431.79,558.51 431.87,558.40 431.95,558.29 432.02,558.19 432.10,558.08 432.18,557.97 432.26,557.87 432.34,557.76 432.42,557.66 432.50,557.56 432.57,557.46 432.65,557.35 432.73,557.25 432.81,557.15 432.89,557.05 432.97,556.95 433.04,556.86 433.12,556.76 433.20,556.66 433.28,556.56 433.36,556.47 433.44,556.37 433.51,556.28 433.59,556.18 433.67,556.09 433.75,556.00 433.83,555.91 433.91,555.81 433.98,555.72 434.06,555.63 434.14,555.54 434.22,555.45 434.30,555.36 434.38,555.28 434.45,555.19 434.53,555.10 434.61,555.02 434.69,554.93 434.77,554.84 434.85,554.76 434.92,554.67 435.00,554.59 435.08,554.51 435.16,554.42 435.24,554.34 435.32,554.26 435.40,554.17 435.47,554.09 435.55,554.01 435.63,553.93 435.71,553.85 435.79,553.77 435.87,553.69 435.94,553.61 436.02,553.53 436.10,553.45 436.18,553.37 436.26,553.30 436.34,553.22 436.41,553.14 436.49,553.07 436.57,552.99 436.65,552.91 436.73,552.84 436.81,552.76 436.88,552.69 436.96,552.61 437.04,552.54 437.12,552.46 437.20,552.39 437.28,552.32 437.35,552.25 437.43,552.17 437.51,552.10 437.59,552.03 437.67,551.96 437.75,551.89 437.82,551.82 437.90,551.75 437.98,551.67 438.06,551.61 438.14,551.54 438.22,551.47 438.29,551.40 438.37,551.33 438.45,551.26 438.53,551.19 438.61,551.12 438.69,551.06 438.77,550.99 438.84,550.92 438.92,550.86 439.00,550.79 439.08,550.72 439.16,550.66 439.24,550.59 439.31,550.53 439.39,550.46 439.47,550.40 439.55,550.33 439.63,550.27 439.71,550.21 439.78,550.14 439.86,550.08 439.94,550.02 440.02,549.95 440.10,549.89 440.18,549.83 440.25,549.77 440.33,549.70 440.41,549.64 440.49,549.58 440.57,549.52 440.65,549.46 440.72,549.40 440.80,549.34 440.85,549.30 441.63,548.70 442.42,548.13 443.20,547.57 443.99,547.02 444.77,546.49 445.55,545.98 446.34,545.48 447.12,545.00 447.90,544.53 448.69,544.08 449.47,543.65 450.25,543.23 451.04,542.83 451.82,542.44 452.61,542.06 453.39,541.70 454.17,541.34 454.96,541.00 455.74,540.67 456.52,540.34 457.31,540.03 458.09,539.72 458.88,539.41 459.66,539.11 460.44,538.82 461.23,538.53 462.01,538.25 462.80,537.96 463.58,537.69 464.36,537.42 465.15,537.15 465.93,536.89 466.71,536.64 467.50,536.40 468.28,536.16 469.06,535.94 469.85,535.72 470.63,535.51 471.42,535.30 472.20,535.10 472.98,534.90 473.77,534.71 474.55,534.52 475.33,534.34 476.12,534.16 476.90,533.99 477.69,533.82 478.47,533.65 479.25,533.49 480.04,533.33 480.82,533.17 481.61,533.01 482.39,532.85 483.17,532.69 483.96,532.54 484.74,532.38 485.52,532.24 486.31,532.10 487.09,531.96 487.88,531.84 488.66,531.72 489.44,531.62 490.23,531.53 491.01,531.44 491.79,531.36 492.58,531.28 493.36,531.20 494.14,531.13 494.93,531.05 495.71,530.98 496.50,530.92 497.28,530.85 498.06,530.79 498.85,530.74 499.63,530.68 500.41,530.63 501.20,530.59 501.98,530.54 502.77,530.50 503.55,530.46 504.33,530.43 505.12,530.40 505.90,530.36 506.69,530.33 507.47,530.30 508.25,530.27 509.04,530.24 509.82,530.21 510.60,530.18 511.39,530.15 512.17,530.12 512.96,530.09 513.74,530.07 514.52,530.04 515.31,530.02 516.09,530.00 516.87,529.97 517.66,529.95 518.44,529.93 519.23,529.91 520.01,529.89 520.79,529.88 521.58,529.86 522.36,529.85 523.14,529.83 523.93,529.82 524.71,529.81 525.50,529.80 526.28,529.79 527.06,529.78 527.85,529.77 528.63,529.77 529.41,529.76 530.20,529.75 530.98,529.74 531.76,529.74 532.55,529.73 533.33,529.73 534.12,529.72 534.90,529.71 535.68,529.71 536.47,529.70 537.25,529.70 538.03,529.69 538.82,529.68 539.60,529.68 540.39,529.67 541.17,529.67 541.95,529.66 542.74,529.66 543.52,529.65 544.30,529.65 545.09,529.64 545.87,529.64 546.66,529.64 547.44,529.63 548.22,529.63 549.01,529.62 549.79,529.62 550.58,529.62 551.36,529.61 552.14,529.61 552.93,529.61 553.71,529.60 554.49,529.60 555.28,529.60 556.06,529.60 556.85,529.59 557.63,529.59 558.41,529.59 559.20,529.59 559.98,529.59 560.76,529.58 561.55,529.58 562.33,529.58 563.12,529.58 563.90,529.58 564.68,529.58 565.47,529.58 566.25,529.58 567.03,529.57 567.82,529.57 568.60,529.57 569.38,529.57 570.17,529.57 570.95,529.57 571.74,529.57 572.52,529.57 573.30,529.57 574.09,529.57 574.87,529.57 575.65,529.57 576.44,529.57 577.22,529.57 578.01,529.56 578.79,529.56 579.57,529.56 580.36,529.56 581.14,529.56 581.92,529.56 582.71,529.56 583.49,529.56 584.28,529.56 585.06,529.56 585.84,529.56 586.63,529.56 587.41,529.56 588.19,529.56 588.98,529.56 589.76,529.55 590.55,529.55 591.33,529.55 592.11,529.55 592.90,529.55 593.68,529.55 594.46,529.55 595.25,529.55 596.03,529.55 596.82,529.55 597.60,529.55 598.38,529.55 599.17,529.55 599.95,529.55 600.74,529.55 601.52,529.55 602.30,529.55 603.09,529.54 603.87,529.54 604.65,529.54 605.44,529.54 606.22,529.54 607.00,529.54 607.79,529.54 608.57,529.54 609.36,529.54 610.14,529.54 610.92,529.54 611.71,529.54 612.49,529.54 613.27,529.54 614.06,529.54 614.84,529.54 615.63,529.54 616.41,529.54 617.19,529.54 617.98,529.54 618.76,529.53 619.54,529.53 620.33,529.53 621.11,529.53 621.90,529.53 622.68,529.53 623.46,529.53 624.25,529.53 625.03,529.53 625.82,529.53 626.60,529.53 627.38,529.53 628.17,529.53 628.95,529.53 629.73,529.53 630.52,529.53 631.30,529.53 632.09,529.53 632.87,529.53 633.65,529.53 634.44,529.53 635.22,529.53 636.00,529.53 636.79,529.53 637.57,529.53 638.36,529.52 639.14,529.52 639.92,529.52 640.71,529.52 641.49,529.52 642.27,529.52 643.06,529.52 643.84,529.52 644.62,529.52 645.41,529.52 646.19,529.52 646.98,529.52 647.76,529.52 648.54,529.52 649.33,529.52 650.11,529.52 650.89,529.52 651.68,529.52 652.46,529.52 653.25,529.52 654.03,529.52 654.81,529.52 655.60,529.52 656.38,529.52 657.16,529.52 657.95,529.52 658.73,529.52 659.52,529.52 660.30,529.52 661.08,529.52 661.87,529.52 662.65,529.52 663.43,529.52 664.22,529.52 665.00,529.52 665.79,529.51 666.57,529.51 667.35,529.51 668.14,529.51 668.92,529.51 669.70,529.51 670.49,529.51 671.27,529.51 672.06,529.51 672.84,529.51 673.62,529.51 674.41,529.51 675.19,529.51 675.97,529.51 676.76,529.51 677.54,529.51 678.33,529.51 679.11,529.51 679.89,529.51 680.68,529.51 681.46,529.51 682.25,529.51 683.03,529.51 683.81,529.51 684.60,529.51 685.38,529.51 686.16,529.51 686.95,529.51 687.73,529.51 688.51,529.51 689.30,529.51 690.08,529.51 690.87,529.51 691.65,529.51 692.43,529.51 693.22,529.51 694.00,529.51 694.78,529.51 695.57,529.51 696.35,529.51 697.14,529.51 697.92,529.51 698.70,529.51 699.49,529.51 700.27,529.51 701.06,529.51 701.84,529.51 702.62,529.51 703.41,529.51 704.19,529.51 704.97,529.51 705.76,529.51 706.54,529.51 707.33,529.51 708.11,529.51 708.89,529.51 709.68,529.51 710.46,529.51 711.24,529.51 712.03,529.51 712.81,529.51 713.60,529.51 714.38,529.51 715.16,529.51 715.95,529.51 716.73,529.51 717.51,529.51 718.30,529.51 719.08,529.51 719.87,529.51 720.65,529.51 721.43,529.51 722.22,529.51 723.00,529.51" fill="none" stroke="#4472c4" stroke-width="4.8" stroke-linejoin="round" stroke-linecap="round"/>
<path d="M407.00 513.40a2.5 2.5 0 1 0 5.0 0a2.5 2.5 0 1 0 -5.0 0zM408.57 513.40a2.5 2.5 0 1 0 5.0 0a2.5 2.5 0 1 0 -5.0 0zM408.10 633.38a2.5 2.5 0 1 0 5.0 0a2.5 2.5 0 1 0 -5.0 0zM408.57 642.80a2.5 2.5 0 1 0 5.0 0a2.5 2.5 0 1 0 -5.0 0zM409.35 644.44a2.5 2.5 0 1 0 5.0 0a2.5 2.5 0 1 0 -5.0 0zM409.70 646.08a2.5 2.5 0 1 0 5.0 0a2.5 2.5 0 1 0 -5.0 0zM410.76 637.62a2.5 2.5 0 1 0 5.0 0a2.5 2.5 0 1 0 -5.0 0z" fill="#4472c4"/>
<g stroke="#d9d9d9" stroke-width="1"><line x1="411.5" y1="846.37" x2="733" y2="846.37"/><line x1="411.5" y1="824.13" x2="733" y2="824.13"/><line x1="411.5" y1="801.90" x2="733" y2="801.90"/><line x1="411.5" y1="779.66" x2="733" y2="779.66"/><line x1="411.5" y1="757.43" x2="733" y2="757.43"/><line x1="411.5" y1="735.20" x2="733" y2="735.20"/><line x1="490.07" y1="735.2" x2="490.07" y2="868.6"/><line x1="568.65" y1="735.2" x2="568.65" y2="868.6"/><line x1="647.23" y1="735.2" x2="647.23" y2="868.6"/><line x1="725.80" y1="735.2" x2="725.80" y2="868.6"/></g>
<path d="M411.5 735.2V868.6H733" fill="none" stroke="#c8c8c8" stroke-width="1"/>
<text x="362.53" y="722" font-size="13.38" font-weight="bold" textLength="187.09" lengthAdjust="spacingAndGlyphs" fill="#474747">Post-bleach profile at t=4s</text>
<text x="391.31" y="873.0" font-size="13" font-weight="bold" fill="#474747">0</text>
<text x="391.31" y="850.766" font-size="13" font-weight="bold" fill="#474747">2</text>
<text x="390.85" y="828.532" font-size="13" font-weight="bold" fill="#474747">4</text>
<text x="391.24" y="806.298" font-size="13" font-weight="bold" fill="#474747">6</text>
<text x="391.18" y="784.064" font-size="13" font-weight="bold" fill="#474747">8</text>
<text x="384.09" y="761.83" font-size="13" font-weight="bold" fill="#474747">10</text>
<text x="384.09" y="739.596" font-size="13" font-weight="bold" fill="#474747">12</text>
<text x="411.50" y="891.3" font-size="13" font-weight="bold" text-anchor="middle" fill="#474747">0</text>
<text x="490.07" y="891.3" font-size="13" font-weight="bold" text-anchor="middle" fill="#474747">5</text>
<text x="568.65" y="891.3" font-size="13" font-weight="bold" text-anchor="middle" fill="#474747">10</text>
<text x="647.23" y="891.3" font-size="13" font-weight="bold" text-anchor="middle" fill="#474747">15</text>
<text x="725.80" y="891.3" font-size="13" font-weight="bold" text-anchor="middle" fill="#474747">20</text>
<text x="472.28" y="907.6" font-size="14.20" font-weight="bold" textLength="180.07" lengthAdjust="spacingAndGlyphs" fill="#474747" style="white-space:pre">Distance  from center (μm)</text>
<text transform="translate(365.40 839.38) rotate(-90)" font-size="14.30" font-weight="bold" textLength="87.29" lengthAdjust="spacingAndGlyphs" fill="#474747">Fluorescence</text>
<polyline points="411.50,861.61 412.29,861.58 413.07,861.54 413.86,861.50 414.64,861.45 415.43,861.39 416.21,861.32 417.00,861.24 417.79,861.15 418.57,861.05 419.36,860.94 420.14,860.82 420.93,860.68 421.71,860.54 422.50,860.39 423.29,860.22 424.07,860.05 424.86,859.86 425.64,859.67 426.43,859.46 427.21,859.24 428.00,859.01 428.79,858.76 429.57,858.51 430.36,858.25 431.14,857.97 431.93,857.68 432.72,857.38 433.50,857.07 434.29,856.75 435.07,856.42 435.86,855.99 436.64,855.56 437.43,855.11 438.22,854.66 439.00,854.19 439.79,853.71 440.57,853.22 441.36,852.72 442.14,852.21 442.93,851.69 443.72,851.16 444.50,850.62 445.29,850.06 446.07,849.50 446.86,848.93 447.64,848.35 448.43,847.83 449.22,847.31 450.00,846.77 450.79,846.23 451.57,845.68 452.36,845.12 453.14,844.55 453.93,843.97 454.72,843.38 455.50,842.79 456.29,842.18 457.07,841.57 457.86,840.95 458.64,840.32 459.43,839.69 460.22,839.05 461.00,838.40 461.79,837.74 462.57,837.08 463.36,836.41 464.15,835.73 464.93,835.05 465.72,834.36 466.50,833.67 467.29,832.97 468.07,832.27 468.86,831.56 469.65,830.85 470.43,830.13 471.22,829.40 472.00,828.68 472.79,827.95 473.57,827.21 474.36,826.47 475.15,825.79 475.93,825.10 476.72,824.41 477.50,823.71 478.29,823.02 479.07,822.32 479.86,821.62 480.65,820.91 481.43,820.21 482.22,819.51 483.00,818.80 483.79,818.09 484.57,817.38 485.36,816.68 486.15,815.97 486.93,815.26 487.72,814.55 488.50,813.84 489.29,813.14 490.07,812.43 490.86,811.72 491.65,811.02 492.43,810.32 493.22,809.61 494.00,808.92 494.79,808.22 495.58,807.52 496.36,806.83 497.15,806.14 497.93,805.45 498.72,804.78 499.50,804.11 500.29,803.45 501.08,802.79 501.86,802.13 502.65,801.48 503.43,800.83 504.22,800.18 505.00,799.54 505.79,798.90 506.58,798.27 507.36,797.64 508.15,797.02 508.93,796.40 509.72,795.79 510.50,795.18 511.29,794.57 512.08,793.97 512.86,793.38 513.65,792.79 514.43,792.21 515.22,791.63 516.00,791.06 516.79,790.50 517.58,789.94 518.36,789.38 519.15,788.84 519.93,788.29 520.72,787.76 521.50,787.23 522.29,786.67 523.08,786.13 523.86,785.58 524.65,785.05 525.43,784.52 526.22,783.99 527.01,783.48 527.79,782.96 528.58,782.46 529.36,781.96 530.15,781.47 530.93,780.99 531.72,780.51 532.51,780.04 533.29,779.58 534.08,779.12 534.86,778.67 535.65,778.23 536.43,777.79 537.22,777.36 538.01,776.94 538.79,776.53 539.58,776.12 540.36,775.71 541.15,775.32 541.93,774.93 542.72,774.54 543.51,774.17 544.29,773.80 545.08,773.44 545.86,773.06 546.65,772.68 547.43,772.32 548.22,771.96 549.01,771.61 549.79,771.26 550.58,770.92 551.36,770.58 552.15,770.26 552.93,769.93 553.72,769.62 554.51,769.31 555.29,769.00 556.08,768.70 556.86,768.41 557.65,768.13 558.44,767.84 559.22,767.57 560.01,767.30 560.79,767.03 561.58,766.78 562.36,766.52 563.15,766.27 563.94,766.03 564.72,765.79 565.51,765.56 566.29,765.33 567.08,765.11 567.86,764.89 568.65,764.68 569.44,764.46 570.22,764.25 571.01,764.04 571.79,763.84 572.58,763.64 573.36,763.44 574.15,763.25 574.94,763.07 575.72,762.89 576.51,762.71 577.29,762.54 578.08,762.37 578.86,762.20 579.65,762.04 580.44,761.88 581.22,761.73 582.01,761.58 582.79,761.43 583.58,761.28 584.37,761.14 585.15,761.01 585.94,760.87 586.72,760.74 587.51,760.61 588.29,760.49 589.08,760.37 589.87,760.25 590.65,760.13 591.44,760.02 592.22,759.91 593.01,759.80 593.79,759.70 594.58,759.59 595.37,759.49 596.15,759.40 596.94,759.30 597.72,759.21 598.51,759.12 599.29,759.03 600.08,758.94 600.87,758.86 601.65,758.79 602.44,758.71 603.22,758.64 604.01,758.57 604.79,758.50 605.58,758.43 606.37,758.37 607.15,758.30 607.94,758.24 608.72,758.18 609.51,758.12 610.29,758.06 611.08,758.01 611.87,757.95 612.65,757.90 613.44,757.85 614.22,757.80 615.01,757.75 615.79,757.71 616.58,757.69 617.37,757.68 618.15,757.67 618.94,757.65 619.72,757.64 620.51,757.62 621.30,757.61 622.08,757.60 622.87,757.58 623.65,757.57 624.44,757.56 625.22,757.54 626.01,757.53 626.80,757.51 627.58,757.50 628.37,757.49 629.15,757.47 629.94,757.46 630.72,757.44 631.51,757.43 632.30,757.43 633.08,757.43 633.87,757.43 634.65,757.43 635.44,757.43 636.22,757.43 637.01,757.43 637.80,757.43 638.58,757.43 639.37,757.43 640.15,757.43 640.94,757.43 641.72,757.43 642.51,757.43 643.30,757.43 644.08,757.43 644.87,757.43 645.65,757.43 646.44,757.43 647.23,757.43 648.01,757.43 648.80,757.43 649.58,757.43 650.37,757.43 651.15,757.43 651.94,757.43 652.73,757.43 653.51,757.43 654.30,757.43 655.08,757.43 655.87,757.43 656.65,757.43 657.44,757.43 658.23,757.43 659.01,757.43 659.80,757.43 660.58,757.43 661.37,757.43 662.15,757.43 662.94,757.43 663.73,757.43 664.51,757.43 665.30,757.43 666.08,757.43 666.87,757.43 667.65,757.43 668.44,757.43 669.23,757.43 670.01,757.43 670.80,757.43 671.58,757.43 672.37,757.43 673.15,757.43 673.94,757.43 674.73,757.43 675.51,757.43 676.30,757.43 677.08,757.43 677.87,757.43 678.65,757.43 679.44,757.43 680.23,757.43 681.01,757.43 681.80,757.43 682.58,757.43 683.37,757.43 684.16,757.43 684.94,757.43 685.73,757.43 686.51,757.43 687.30,757.43 688.08,757.43 688.87,757.43 689.66,757.43 690.44,757.43 691.23,757.43 692.01,757.43 692.80,757.43 693.58,757.43 694.37,757.43 695.16,757.43 695.94,757.43 696.73,757.43 697.51,757.43 698.30,757.43 699.08,757.43 699.87,757.43 700.66,757.43 701.44,757.43 702.23,757.43 703.01,757.43 703.80,757.43 704.58,757.43 705.37,757.43 706.16,757.43 706.94,757.43 707.73,757.43 708.51,757.43 709.30,757.43 710.09,757.43 710.87,757.43 711.66,757.43 712.44,757.43 713.23,757.43 714.01,757.43 714.80,757.43 715.59,757.43 716.37,757.43 717.16,757.43 717.94,757.43 718.73,757.43 719.51,757.43 720.30,757.43 721.09,757.43 721.87,757.43 722.66,757.43 723.44,757.43 724.23,757.43 725.01,757.43 725.80,757.43 726.59,757.43 727.37,757.43 728.16,757.43 728.94,757.43 729.73,757.43 730.51,757.43" fill="none" stroke="#ed7d31" stroke-width="2.0" stroke-linejoin="round" stroke-linecap="round"/>
<path d="M410.15 859.16a1.35 1.35 0 1 0 2.7 0a1.35 1.35 0 1 0 -2.7 0zM411.72 859.15a1.35 1.35 0 1 0 2.7 0a1.35 1.35 0 1 0 -2.7 0zM413.29 859.11a1.35 1.35 0 1 0 2.7 0a1.35 1.35 0 1 0 -2.7 0zM414.86 859.03a1.35 1.35 0 1 0 2.7 0a1.35 1.35 0 1 0 -2.7 0zM416.44 858.91a1.35 1.35 0 1 0 2.7 0a1.35 1.35 0 1 0 -2.7 0zM418.01 858.75a1.35 1.35 0 1 0 2.7 0a1.35 1.35 0 1 0 -2.7 0zM419.58 858.55a1.35 1.35 0 1 0 2.7 0a1.35 1.35 0 1 0 -2.7 0zM421.15 858.31a1.35 1.35 0 1 0 2.7 0a1.35 1.35 0 1 0 -2.7 0zM422.72 858.02a1.35 1.35 0 1 0 2.7 0a1.35 1.35 0 1 0 -2.7 0zM424.29 857.69a1.35 1.35 0 1 0 2.7 0a1.35 1.35 0 1 0 -2.7 0zM425.86 857.31a1.35 1.35 0 1 0 2.7 0a1.35 1.35 0 1 0 -2.7 0zM427.44 856.89a1.35 1.35 0 1 0 2.7 0a1.35 1.35 0 1 0 -2.7 0zM429.01 856.42a1.35 1.35 0 1 0 2.7 0a1.35 1.35 0 1 0 -2.7 0zM430.58 855.91a1.35 1.35 0 1 0 2.7 0a1.35 1.35 0 1 0 -2.7 0zM432.15 855.35a1.35 1.35 0 1 0 2.7 0a1.35 1.35 0 1 0 -2.7 0zM433.72 854.75a1.35 1.35 0 1 0 2.7 0a1.35 1.35 0 1 0 -2.7 0zM435.29 854.10a1.35 1.35 0 1 0 2.7 0a1.35 1.35 0 1 0 -2.7 0zM436.87 853.41a1.35 1.35 0 1 0 2.7 0a1.35 1.35 0 1 0 -2.7 0zM438.44 852.67a1.35 1.35 0 1 0 2.7 0a1.35 1.35 0 1 0 -2.7 0zM440.01 851.89a1.35 1.35 0 1 0 2.7 0a1.35 1.35 0 1 0 -2.7 0zM441.58 851.07a1.35 1.35 0 1 0 2.7 0a1.35 1.35 0 1 0 -2.7 0zM443.15 850.20a1.35 1.35 0 1 0 2.7 0a1.35 1.35 0 1 0 -2.7 0zM444.72 849.29a1.35 1.35 0 1 0 2.7 0a1.35 1.35 0 1 0 -2.7 0zM446.29 848.35a1.35 1.35 0 1 0 2.7 0a1.35 1.35 0 1 0 -2.7 0zM447.87 847.36a1.35 1.35 0 1 0 2.7 0a1.35 1.35 0 1 0 -2.7 0zM449.44 846.34a1.35 1.35 0 1 0 2.7 0a1.35 1.35 0 1 0 -2.7 0zM451.01 845.28a1.35 1.35 0 1 0 2.7 0a1.35 1.35 0 1 0 -2.7 0zM452.58 844.18a1.35 1.35 0 1 0 2.7 0a1.35 1.35 0 1 0 -2.7 0zM454.15 843.05a1.35 1.35 0 1 0 2.7 0a1.35 1.35 0 1 0 -2.7 0zM455.72 841.89a1.35 1.35 0 1 0 2.7 0a1.35 1.35 0 1 0 -2.7 0zM457.29 840.69a1.35 1.35 0 1 0 2.7 0a1.35 1.35 0 1 0 -2.7 0zM458.87 839.47a1.35 1.35 0 1 0 2.7 0a1.35 1.35 0 1 0 -2.7 0zM460.44 838.21a1.35 1.35 0 1 0 2.7 0a1.35 1.35 0 1 0 -2.7 0zM462.01 836.93a1.35 1.35 0 1 0 2.7 0a1.35 1.35 0 1 0 -2.7 0zM463.58 835.63a1.35 1.35 0 1 0 2.7 0a1.35 1.35 0 1 0 -2.7 0zM465.15 834.30a1.35 1.35 0 1 0 2.7 0a1.35 1.35 0 1 0 -2.7 0zM466.72 832.95a1.35 1.35 0 1 0 2.7 0a1.35 1.35 0 1 0 -2.7 0zM468.30 831.58a1.35 1.35 0 1 0 2.7 0a1.35 1.35 0 1 0 -2.7 0zM469.87 830.19a1.35 1.35 0 1 0 2.7 0a1.35 1.35 0 1 0 -2.7 0zM471.44 828.78a1.35 1.35 0 1 0 2.7 0a1.35 1.35 0 1 0 -2.7 0zM473.01 827.36a1.35 1.35 0 1 0 2.7 0a1.35 1.35 0 1 0 -2.7 0zM474.58 825.93a1.35 1.35 0 1 0 2.7 0a1.35 1.35 0 1 0 -2.7 0zM476.15 824.48a1.35 1.35 0 1 0 2.7 0a1.35 1.35 0 1 0 -2.7 0zM477.72 823.03a1.35 1.35 0 1 0 2.7 0a1.35 1.35 0 1 0 -2.7 0zM479.30 821.57a1.35 1.35 0 1 0 2.7 0a1.35 1.35 0 1 0 -2.7 0zM480.87 820.10a1.35 1.35 0 1 0 2.7 0a1.35 1.35 0 1 0 -2.7 0zM482.44 818.63a1.35 1.35 0 1 0 2.7 0a1.35 1.35 0 1 0 -2.7 0zM484.01 817.15a1.35 1.35 0 1 0 2.7 0a1.35 1.35 0 1 0 -2.7 0zM485.58 815.67a1.35 1.35 0 1 0 2.7 0a1.35 1.35 0 1 0 -2.7 0zM487.15 814.20a1.35 1.35 0 1 0 2.7 0a1.35 1.35 0 1 0 -2.7 0zM488.72 812.73a1.35 1.35 0 1 0 2.7 0a1.35 1.35 0 1 0 -2.7 0zM490.30 811.26a1.35 1.35 0 1 0 2.7 0a1.35 1.35 0 1 0 -2.7 0zM491.87 809.79a1.35 1.35 0 1 0 2.7 0a1.35 1.35 0 1 0 -2.7 0zM493.44 808.34a1.35 1.35 0 1 0 2.7 0a1.35 1.35 0 1 0 -2.7 0zM495.01 806.89a1.35 1.35 0 1 0 2.7 0a1.35 1.35 0 1 0 -2.7 0zM496.58 805.45a1.35 1.35 0 1 0 2.7 0a1.35 1.35 0 1 0 -2.7 0zM498.15 804.02a1.35 1.35 0 1 0 2.7 0a1.35 1.35 0 1 0 -2.7 0zM499.73 802.61a1.35 1.35 0 1 0 2.7 0a1.35 1.35 0 1 0 -2.7 0zM501.30 801.21a1.35 1.35 0 1 0 2.7 0a1.35 1.35 0 1 0 -2.7 0zM502.87 799.83a1.35 1.35 0 1 0 2.7 0a1.35 1.35 0 1 0 -2.7 0zM504.44 798.46a1.35 1.35 0 1 0 2.7 0a1.35 1.35 0 1 0 -2.7 0zM506.01 797.11a1.35 1.35 0 1 0 2.7 0a1.35 1.35 0 1 0 -2.7 0zM507.58 795.78a1.35 1.35 0 1 0 2.7 0a1.35 1.35 0 1 0 -2.7 0zM509.15 794.46a1.35 1.35 0 1 0 2.7 0a1.35 1.35 0 1 0 -2.7 0zM510.73 793.17a1.35 1.35 0 1 0 2.7 0a1.35 1.35 0 1 0 -2.7 0zM512.30 791.90a1.35 1.35 0 1 0 2.7 0a1.35 1.35 0 1 0 -2.7 0zM513.87 790.65a1.35 1.35 0 1 0 2.7 0a1.35 1.35 0 1 0 -2.7 0zM515.44 789.43a1.35 1.35 0 1 0 2.7 0a1.35 1.35 0 1 0 -2.7 0zM517.01 788.23a1.35 1.35 0 1 0 2.7 0a1.35 1.35 0 1 0 -2.7 0zM518.58 787.05a1.35 1.35 0 1 0 2.7 0a1.35 1.35 0 1 0 -2.7 0zM520.15 785.90a1.35 1.35 0 1 0 2.7 0a1.35 1.35 0 1 0 -2.7 0zM521.73 784.77a1.35 1.35 0 1 0 2.7 0a1.35 1.35 0 1 0 -2.7 0zM523.30 783.67a1.35 1.35 0 1 0 2.7 0a1.35 1.35 0 1 0 -2.7 0zM524.87 782.59a1.35 1.35 0 1 0 2.7 0a1.35 1.35 0 1 0 -2.7 0zM526.44 781.54a1.35 1.35 0 1 0 2.7 0a1.35 1.35 0 1 0 -2.7 0zM528.01 780.52a1.35 1.35 0 1 0 2.7 0a1.35 1.35 0 1 0 -2.7 0zM529.58 779.52a1.35 1.35 0 1 0 2.7 0a1.35 1.35 0 1 0 -2.7 0zM531.16 778.55a1.35 1.35 0 1 0 2.7 0a1.35 1.35 0 1 0 -2.7 0zM532.73 777.61a1.35 1.35 0 1 0 2.7 0a1.35 1.35 0 1 0 -2.7 0zM534.30 776.70a1.35 1.35 0 1 0 2.7 0a1.35 1.35 0 1 0 -2.7 0zM535.87 775.81a1.35 1.35 0 1 0 2.7 0a1.35 1.35 0 1 0 -2.7 0zM537.44 774.95a1.35 1.35 0 1 0 2.7 0a1.35 1.35 0 1 0 -2.7 0zM539.01 774.11a1.35 1.35 0 1 0 2.7 0a1.35 1.35 0 1 0 -2.7 0zM540.58 773.30a1.35 1.35 0 1 0 2.7 0a1.35 1.35 0 1 0 -2.7 0zM542.16 772.52a1.35 1.35 0 1 0 2.7 0a1.35 1.35 0 1 0 -2.7 0zM543.73 771.77a1.35 1.35 0 1 0 2.7 0a1.35 1.35 0 1 0 -2.7 0zM545.30 771.04a1.35 1.35 0 1 0 2.7 0a1.35 1.35 0 1 0 -2.7 0zM546.87 770.34a1.35 1.35 0 1 0 2.7 0a1.35 1.35 0 1 0 -2.7 0zM548.44 769.66a1.35 1.35 0 1 0 2.7 0a1.35 1.35 0 1 0 -2.7 0zM550.01 769.01a1.35 1.35 0 1 0 2.7 0a1.35 1.35 0 1 0 -2.7 0zM551.58 768.38a1.35 1.35 0 1 0 2.7 0a1.35 1.35 0 1 0 -2.7 0zM553.16 767.77a1.35 1.35 0 1 0 2.7 0a1.35 1.35 0 1 0 -2.7 0zM554.73 767.19a1.35 1.35 0 1 0 2.7 0a1.35 1.35 0 1 0 -2.7 0zM556.30 766.64a1.35 1.35 0 1 0 2.7 0a1.35 1.35 0 1 0 -2.7 0zM557.87 766.10a1.35 1.35 0 1 0 2.7 0a1.35 1.35 0 1 0 -2.7 0zM559.44 765.59a1.35 1.35 0 1 0 2.7 0a1.35 1.35 0 1 0 -2.7 0zM561.01 765.10a1.35 1.35 0 1 0 2.7 0a1.35 1.35 0 1 0 -2.7 0zM562.59 764.63a1.35 1.35 0 1 0 2.7 0a1.35 1.35 0 1 0 -2.7 0zM564.16 764.18a1.35 1.35 0 1 0 2.7 0a1.35 1.35 0 1 0 -2.7 0zM565.73 763.75a1.35 1.35 0 1 0 2.7 0a1.35 1.35 0 1 0 -2.7 0zM567.30 763.34a1.35 1.35 0 1 0 2.7 0a1.35 1.35 0 1 0 -2.7 0zM568.87 762.95a1.35 1.35 0 1 0 2.7 0a1.35 1.35 0 1 0 -2.7 0zM570.44 762.58a1.35 1.35 0 1 0 2.7 0a1.35 1.35 0 1 0 -2.7 0zM572.01 762.23a1.35 1.35 0 1 0 2.7 0a1.35 1.35 0 1 0 -2.7 0zM573.59 761.89a1.35 1.35 0 1 0 2.7 0a1.35 1.35 0 1 0 -2.7 0zM575.16 761.57a1.35 1.35 0 1 0 2.7 0a1.35 1.35 0 1 0 -2.7 0zM576.73 761.27a1.35 1.35 0 1 0 2.7 0a1.35 1.35 0 1 0 -2.7 0zM578.30 760.98a1.35 1.35 0 1 0 2.7 0a1.35 1.35 0 1 0 -2.7 0zM579.87 760.70a1.35 1.35 0 1 0 2.7 0a1.35 1.35 0 1 0 -2.7 0zM581.44 760.44a1.35 1.35 0 1 0 2.7 0a1.35 1.35 0 1 0 -2.7 0zM583.01 760.20a1.35 1.35 0 1 0 2.7 0a1.35 1.35 0 1 0 -2.7 0zM584.59 759.97a1.35 1.35 0 1 0 2.7 0a1.35 1.35 0 1 0 -2.7 0zM586.16 759.75a1.35 1.35 0 1 0 2.7 0a1.35 1.35 0 1 0 -2.7 0zM587.73 759.54a1.35 1.35 0 1 0 2.7 0a1.35 1.35 0 1 0 -2.7 0zM589.30 759.34a1.35 1.35 0 1 0 2.7 0a1.35 1.35 0 1 0 -2.7 0zM590.87 759.16a1.35 1.35 0 1 0 2.7 0a1.35 1.35 0 1 0 -2.7 0zM592.44 758.98a1.35 1.35 0 1 0 2.7 0a1.35 1.35 0 1 0 -2.7 0zM594.02 758.82a1.35 1.35 0 1 0 2.7 0a1.35 1.35 0 1 0 -2.7 0zM595.59 758.67a1.35 1.35 0 1 0 2.7 0a1.35 1.35 0 1 0 -2.7 0zM597.16 758.52a1.35 1.35 0 1 0 2.7 0a1.35 1.35 0 1 0 -2.7 0zM598.73 758.39a1.35 1.35 0 1 0 2.7 0a1.35 1.35 0 1 0 -2.7 0zM600.30 758.26a1.35 1.35 0 1 0 2.7 0a1.35 1.35 0 1 0 -2.7 0zM601.87 758.14a1.35 1.35 0 1 0 2.7 0a1.35 1.35 0 1 0 -2.7 0zM603.44 758.03a1.35 1.35 0 1 0 2.7 0a1.35 1.35 0 1 0 -2.7 0zM605.02 757.92a1.35 1.35 0 1 0 2.7 0a1.35 1.35 0 1 0 -2.7 0zM606.59 757.82a1.35 1.35 0 1 0 2.7 0a1.35 1.35 0 1 0 -2.7 0zM608.16 757.73a1.35 1.35 0 1 0 2.7 0a1.35 1.35 0 1 0 -2.7 0zM609.73 757.65a1.35 1.35 0 1 0 2.7 0a1.35 1.35 0 1 0 -2.7 0zM611.30 757.56a1.35 1.35 0 1 0 2.7 0a1.35 1.35 0 1 0 -2.7 0zM612.87 757.49a1.35 1.35 0 1 0 2.7 0a1.35 1.35 0 1 0 -2.7 0zM614.44 757.43a1.35 1.35 0 1 0 2.7 0a1.35 1.35 0 1 0 -2.7 0zM616.02 757.43a1.35 1.35 0 1 0 2.7 0a1.35 1.35 0 1 0 -2.7 0zM617.59 757.43a1.35 1.35 0 1 0 2.7 0a1.35 1.35 0 1 0 -2.7 0zM619.16 757.43a1.35 1.35 0 1 0 2.7 0a1.35 1.35 0 1 0 -2.7 0zM620.73 757.43a1.35 1.35 0 1 0 2.7 0a1.35 1.35 0 1 0 -2.7 0zM622.30 757.43a1.35 1.35 0 1 0 2.7 0a1.35 1.35 0 1 0 -2.7 0zM623.87 757.43a1.35 1.35 0 1 0 2.7 0a1.35 1.35 0 1 0 -2.7 0zM625.45 757.43a1.35 1.35 0 1 0 2.7 0a1.35 1.35 0 1 0 -2.7 0zM627.02 757.43a1.35 1.35 0 1 0 2.7 0a1.35 1.35 0 1 0 -2.7 0zM628.59 757.43a1.35 1.35 0 1 0 2.7 0a1.35 1.35 0 1 0 -2.7 0zM630.16 757.43a1.35 1.35 0 1 0 2.7 0a1.35 1.35 0 1 0 -2.7 0zM631.73 757.43a1.35 1.35 0 1 0 2.7 0a1.35 1.35 0 1 0 -2.7 0zM633.30 757.43a1.35 1.35 0 1 0 2.7 0a1.35 1.35 0 1 0 -2.7 0zM634.87 757.43a1.35 1.35 0 1 0 2.7 0a1.35 1.35 0 1 0 -2.7 0zM636.45 757.43a1.35 1.35 0 1 0 2.7 0a1.35 1.35 0 1 0 -2.7 0zM638.02 757.43a1.35 1.35 0 1 0 2.7 0a1.35 1.35 0 1 0 -2.7 0zM639.59 757.43a1.35 1.35 0 1 0 2.7 0a1.35 1.35 0 1 0 -2.7 0zM641.16 757.43a1.35 1.35 0 1 0 2.7 0a1.35 1.35 0 1 0 -2.7 0zM642.73 757.43a1.35 1.35 0 1 0 2.7 0a1.35 1.35 0 1 0 -2.7 0zM644.30 757.43a1.35 1.35 0 1 0 2.7 0a1.35 1.35 0 1 0 -2.7 0zM645.88 757.43a1.35 1.35 0 1 0 2.7 0a1.35 1.35 0 1 0 -2.7 0zM647.45 757.43a1.35 1.35 0 1 0 2.7 0a1.35 1.35 0 1 0 -2.7 0zM649.02 757.43a1.35 1.35 0 1 0 2.7 0a1.35 1.35 0 1 0 -2.7 0zM650.59 757.43a1.35 1.35 0 1 0 2.7 0a1.35 1.35 0 1 0 -2.7 0zM652.16 757.43a1.35 1.35 0 1 0 2.7 0a1.35 1.35 0 1 0 -2.7 0zM653.73 757.43a1.35 1.35 0 1 0 2.7 0a1.35 1.35 0 1 0 -2.7 0zM655.30 757.43a1.35 1.35 0 1 0 2.7 0a1.35 1.35 0 1 0 -2.7 0zM656.88 757.43a1.35 1.35 0 1 0 2.7 0a1.35 1.35 0 1 0 -2.7 0zM658.45 757.43a1.35 1.35 0 1 0 2.7 0a1.35 1.35 0 1 0 -2.7 0zM660.02 757.43a1.35 1.35 0 1 0 2.7 0a1.35 1.35 0 1 0 -2.7 0zM661.59 757.43a1.35 1.35 0 1 0 2.7 0a1.35 1.35 0 1 0 -2.7 0zM663.16 757.43a1.35 1.35 0 1 0 2.7 0a1.35 1.35 0 1 0 -2.7 0zM664.73 757.43a1.35 1.35 0 1 0 2.7 0a1.35 1.35 0 1 0 -2.7 0zM666.30 757.43a1.35 1.35 0 1 0 2.7 0a1.35 1.35 0 1 0 -2.7 0zM667.88 757.43a1.35 1.35 0 1 0 2.7 0a1.35 1.35 0 1 0 -2.7 0zM669.45 757.43a1.35 1.35 0 1 0 2.7 0a1.35 1.35 0 1 0 -2.7 0zM671.02 757.43a1.35 1.35 0 1 0 2.7 0a1.35 1.35 0 1 0 -2.7 0zM672.59 757.43a1.35 1.35 0 1 0 2.7 0a1.35 1.35 0 1 0 -2.7 0zM674.16 757.43a1.35 1.35 0 1 0 2.7 0a1.35 1.35 0 1 0 -2.7 0zM675.73 757.43a1.35 1.35 0 1 0 2.7 0a1.35 1.35 0 1 0 -2.7 0zM677.30 757.43a1.35 1.35 0 1 0 2.7 0a1.35 1.35 0 1 0 -2.7 0zM678.88 757.43a1.35 1.35 0 1 0 2.7 0a1.35 1.35 0 1 0 -2.7 0zM680.45 757.43a1.35 1.35 0 1 0 2.7 0a1.35 1.35 0 1 0 -2.7 0zM682.02 757.43a1.35 1.35 0 1 0 2.7 0a1.35 1.35 0 1 0 -2.7 0zM683.59 757.43a1.35 1.35 0 1 0 2.7 0a1.35 1.35 0 1 0 -2.7 0zM685.16 757.43a1.35 1.35 0 1 0 2.7 0a1.35 1.35 0 1 0 -2.7 0zM686.73 757.43a1.35 1.35 0 1 0 2.7 0a1.35 1.35 0 1 0 -2.7 0zM688.31 757.43a1.35 1.35 0 1 0 2.7 0a1.35 1.35 0 1 0 -2.7 0zM689.88 757.43a1.35 1.35 0 1 0 2.7 0a1.35 1.35 0 1 0 -2.7 0zM691.45 757.43a1.35 1.35 0 1 0 2.7 0a1.35 1.35 0 1 0 -2.7 0zM693.02 757.43a1.35 1.35 0 1 0 2.7 0a1.35 1.35 0 1 0 -2.7 0zM694.59 757.43a1.35 1.35 0 1 0 2.7 0a1.35 1.35 0 1 0 -2.7 0zM696.16 757.43a1.35 1.35 0 1 0 2.7 0a1.35 1.35 0 1 0 -2.7 0zM697.73 757.43a1.35 1.35 0 1 0 2.7 0a1.35 1.35 0 1 0 -2.7 0zM699.31 757.43a1.35 1.35 0 1 0 2.7 0a1.35 1.35 0 1 0 -2.7 0zM700.88 757.43a1.35 1.35 0 1 0 2.7 0a1.35 1.35 0 1 0 -2.7 0zM702.45 757.43a1.35 1.35 0 1 0 2.7 0a1.35 1.35 0 1 0 -2.7 0zM704.02 757.43a1.35 1.35 0 1 0 2.7 0a1.35 1.35 0 1 0 -2.7 0zM705.59 757.43a1.35 1.35 0 1 0 2.7 0a1.35 1.35 0 1 0 -2.7 0zM707.16 757.43a1.35 1.35 0 1 0 2.7 0a1.35 1.35 0 1 0 -2.7 0zM708.74 757.43a1.35 1.35 0 1 0 2.7 0a1.35 1.35 0 1 0 -2.7 0zM710.31 757.43a1.35 1.35 0 1 0 2.7 0a1.35 1.35 0 1 0 -2.7 0zM711.88 757.43a1.35 1.35 0 1 0 2.7 0a1.35 1.35 0 1 0 -2.7 0zM713.45 757.43a1.35 1.35 0 1 0 2.7 0a1.35 1.35 0 1 0 -2.7 0zM715.02 757.43a1.35 1.35 0 1 0 2.7 0a1.35 1.35 0 1 0 -2.7 0zM716.59 757.43a1.35 1.35 0 1 0 2.7 0a1.35 1.35 0 1 0 -2.7 0zM718.16 757.43a1.35 1.35 0 1 0 2.7 0a1.35 1.35 0 1 0 -2.7 0zM719.74 757.43a1.35 1.35 0 1 0 2.7 0a1.35 1.35 0 1 0 -2.7 0zM721.31 757.43a1.35 1.35 0 1 0 2.7 0a1.35 1.35 0 1 0 -2.7 0zM722.88 757.43a1.35 1.35 0 1 0 2.7 0a1.35 1.35 0 1 0 -2.7 0zM724.45 757.43a1.35 1.35 0 1 0 2.7 0a1.35 1.35 0 1 0 -2.7 0zM726.02 757.43a1.35 1.35 0 1 0 2.7 0a1.35 1.35 0 1 0 -2.7 0zM727.59 757.43a1.35 1.35 0 1 0 2.7 0a1.35 1.35 0 1 0 -2.7 0zM729.16 757.43a1.35 1.35 0 1 0 2.7 0a1.35 1.35 0 1 0 -2.7 0z" fill="#4472c4"/>
<path d="M563.30 797.30a1.2 1.2 0 1 0 2.4 0a1.2 1.2 0 1 0 -2.4 0z" fill="#4472c4"/>
<text x="576.4" y="801.3" font-size="13.91" font-weight="bold" textLength="34.6" lengthAdjust="spacingAndGlyphs" fill="#333">Fluor</text>
<line x1="629.2" y1="797.3" x2="649.7" y2="797.3" stroke="#ed7d31" stroke-width="2.4"/>
<text x="650.98" y="801.3" font-size="13.91" font-weight="bold" textLength="39.25" lengthAdjust="spacingAndGlyphs" fill="#333">Fit Re</text>
</svg>
</body></html>
